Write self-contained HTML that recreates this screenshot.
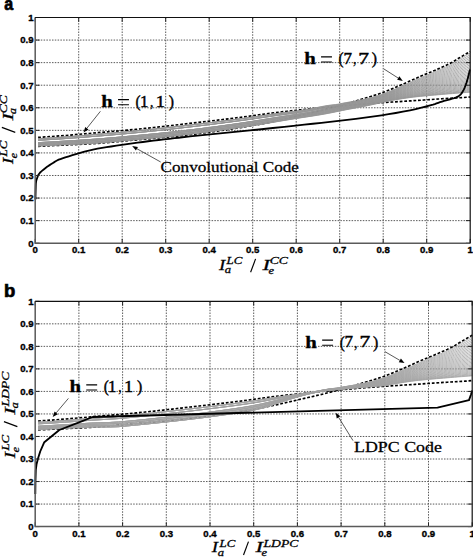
<!DOCTYPE html>
<html><head><meta charset="utf-8"><style>
html,body{margin:0;padding:0;background:#fff;}
body{width:473px;height:557px;overflow:hidden;position:relative;}
svg{position:absolute;left:0;top:0;}
.grid{fill:none;stroke:#5a5a5a;stroke-width:1;stroke-dasharray:1.5 1.3;}
.gray path{fill:none;stroke:#969696;stroke-width:0.75;}
.grayb path{stroke:#a2a2a2;}
.dash{fill:none;stroke:#000;stroke-width:1.65;stroke-dasharray:2.8 1.8;}
.solid{fill:none;stroke:#000;stroke-width:1.85;stroke-linejoin:round;}
.tick{fill:none;stroke:#222;stroke-width:1;}
.boxlb{fill:none;stroke:#5a5a5a;stroke-width:1.5;}
.boxtr{fill:none;stroke:#111;stroke-width:1.2;}
.arr{fill:none;stroke:#111;stroke-width:0.7;}
.arrh{fill:#000;stroke:none;}
.slash{fill:none;stroke:#000;stroke-width:1.15;}
.eq{fill:none;stroke:#000;stroke-width:1.1;}
.tl text{font-family:"Liberation Sans",sans-serif;font-weight:bold;font-size:9.6px;fill:#000;stroke:#000;stroke-width:0.35;}
.txt text{fill:#000;stroke:#000;stroke-width:0.3;}
.txt .thin text,.txt text.thin{stroke-width:0.28;}
.txt text.lab{stroke-width:0.7;}
.txt text.dig{stroke-width:0.45;}
</style></head><body>
<svg width="473" height="557" viewBox="0 0 473 557">
<path d="M78.7,17.5V243.2 M122.2,17.5V243.2 M165.7,17.5V243.2 M209.2,17.5V243.2 M252.7,17.5V243.2 M296.2,17.5V243.2 M339.7,17.5V243.2 M383.2,17.5V243.2 M426.7,17.5V243.2 M35.2,220.63H470.2 M35.2,198.06H470.2 M35.2,175.49H470.2 M35.2,152.92H470.2 M35.2,130.35H470.2 M35.2,107.78H470.2 M35.2,85.21H470.2 M35.2,62.64H470.2 M35.2,40.07H470.2" class="grid"/>
<path d="M38.1,137.39 L47,136.81 L55.9,136.19 L64.8,135.52 L73.7,134.77 L82.6,133.98 L91.5,133.19 L100.4,132.44 L109.3,131.71 L118.2,130.96 L127.1,130.17 L136,129.32 L144.9,128.41 L153.8,127.46 L162.7,126.47 L171.6,125.47 L180.5,124.45 L189.4,123.43 L198.3,122.41 L207.2,121.38 L216.1,120.33 L225,119.26 L233.9,118.17 L242.8,117.04 L251.7,115.84 L260.6,114.58 L269.5,113.36 L278.4,112.25 L287.3,111.24 L296.2,110.29 L299.75,109.93 L303.3,109.57 L306.85,109.22 L310.4,108.87 L313.96,108.52 L317.51,108.19 L321.06,107.85 L324.61,107.52 L328.16,107.19 L331.71,106.86 L335.26,106.54 L338.81,106.21 L342.36,105.89 L345.91,105.58 L349.47,105.27 L353.02,104.96 L356.57,104.66 L360.12,104.36 L363.67,104.08 L367.22,103.79 L370.77,103.52 L374.32,103.25 L377.87,102.99 L381.42,102.74 L384.98,102.5 L388.53,102.27 L392.08,102.04 L395.63,101.82 L399.18,101.6 L402.73,101.38 L406.28,101.16 L409.83,100.93 L413.38,100.7 L416.93,100.47 L420.49,100.23 L424.04,99.99 L427.59,99.75 L431.14,99.5 L434.69,99.26 L438.24,99.02 L441.79,98.79 L445.34,98.55 L448.89,98.33 L452.44,98.11 L456,97.91 L459.55,97.72 L463.1,97.52 L466.65,97.27 L470.2,96.95" class="dash"/>
<path d="M38.1,146.35 L47,145.91 L55.9,145.48 L64.8,145.05 L73.7,144.64 L82.6,144.23 L91.5,143.76 L100.4,143.16 L109.3,142.42 L118.2,141.61 L127.1,140.78 L136,139.97 L144.9,139.17 L153.8,138.35 L162.7,137.52 L171.6,136.64 L180.5,135.71 L189.4,134.72 L198.3,133.64 L207.2,132.5 L216.1,131.29 L225,130.01 L233.9,128.66 L242.8,127.23 L251.7,125.74 L260.6,124.16 L269.5,122.42 L278.4,120.49 L287.3,118.44 L296.2,116.36 L299.75,115.54 L303.3,114.72 L306.85,113.91 L310.4,113.08 L313.96,112.25 L317.51,111.41 L321.06,110.54 L324.61,109.66 L328.16,108.74 L331.71,107.8 L335.26,106.84 L338.81,105.86 L342.36,104.86 L345.91,103.84 L349.47,102.82 L353.02,101.78 L356.57,100.74 L360.12,99.7 L363.67,98.64 L367.22,97.58 L370.77,96.49 L374.32,95.37 L377.87,94.25 L381.42,93.05 L384.98,91.74 L388.53,90.34 L392.08,88.88 L395.63,87.36 L399.18,85.82 L402.73,84.27 L406.28,82.72 L409.83,81.1 L413.38,79.47 L416.93,77.88 L420.49,76.36 L424.04,74.87 L427.59,73.4 L431.14,71.92 L434.69,70.42 L438.24,68.88 L441.79,67.31 L445.34,65.73 L448.89,64.05 L452.44,62.17 L456,59.95 L459.55,57.73 L463.1,55.63 L466.65,53.58 L470.2,51.58" class="dash"/>
<g class="gray"><path d="M38.1,145.85 L47,145.41 L55.9,144.98 L64.8,144.55 L73.7,144.14 L82.6,143.73 L91.5,143.26 L100.4,142.66 L109.3,141.92 L118.2,141.11 L127.1,140.28 L136,139.47 L144.9,138.67 L153.8,137.85 L162.7,137.02 L171.6,136.1 L180.5,135.1 L189.4,134.07 L198.3,132.99 L207.2,131.86 L216.1,130.68 L225,129.48 L233.9,128.27 L242.8,127.03 L251.7,125.75 L260.6,124.41 L269.5,122.96 L278.4,121.45 L287.3,119.94 L296.2,118.52 L299.75,117.98 L303.3,117.45 L306.85,116.92 L310.4,116.38 L313.96,115.83 L317.51,115.27 L321.06,114.68 L324.61,114.07 L328.16,113.42 L331.71,112.72 L335.26,111.99 L338.81,111.25 L342.36,110.52 L345.91,109.82 L349.47,109.15 L353.02,108.49 L356.57,107.82 L360.12,107.16 L363.67,106.47 L367.22,105.75 L370.77,105 L374.32,104.23 L377.87,103.46 L381.42,102.68 L384.98,101.87 L388.53,101.09 L392.08,100.42 L395.63,99.78 L399.18,99.18 L402.73,98.61 L406.28,98.08 L409.83,97.6 L413.38,97.15 L416.93,96.75 L420.49,96.38 L424.04,96.03 L427.59,95.69 L431.14,95.38 L434.69,95.07 L438.24,94.77 L441.79,94.47 L445.34,94.17 L448.89,93.87 L452.44,93.58 L456,93.29 L459.55,93.01 L463.1,92.73 L466.65,92.46 L470.2,92.2"/><path d="M38.1,145.85 L47,145.41 L55.9,144.98 L64.8,144.55 L73.7,144.14 L82.6,143.73 L91.5,143.26 L100.4,142.66 L109.3,141.92 L118.2,141.11 L127.1,140.28 L136,139.47 L144.9,138.67 L153.8,137.85 L162.7,137.02 L171.6,136.1 L180.5,135.1 L189.4,134.07 L198.3,132.99 L207.2,131.85 L216.1,130.66 L225,129.45 L233.9,128.22 L242.8,126.96 L251.7,125.67 L260.6,124.31 L269.5,122.84 L278.4,121.31 L287.3,119.8 L296.2,118.37 L299.75,117.82 L303.3,117.28 L306.85,116.74 L310.4,116.19 L313.96,115.64 L317.51,115.06 L321.06,114.47 L324.61,113.85 L328.16,113.19 L331.71,112.49 L335.26,111.77 L338.81,111.03 L342.36,110.3 L345.91,109.6 L349.47,108.93 L353.02,108.27 L356.57,107.61 L360.12,106.95 L363.67,106.26 L367.22,105.55 L370.77,104.8 L374.32,104.04 L377.87,103.27 L381.42,102.5 L384.98,101.68 L388.53,100.9 L392.08,100.22 L395.63,99.58 L399.18,98.97 L402.73,98.4 L406.28,97.86 L409.83,97.37 L413.38,96.92 L416.93,96.51 L420.49,96.13 L424.04,95.77 L427.59,95.43 L431.14,95.1 L434.69,94.78 L438.24,94.47 L441.79,94.15 L445.34,93.83 L448.89,93.51 L452.44,93.2 L456,92.89 L459.55,92.58 L463.1,92.28 L466.65,91.99 L470.2,91.71"/><path d="M38.1,145.85 L47,145.41 L55.9,144.98 L64.8,144.55 L73.7,144.14 L82.6,143.73 L91.5,143.26 L100.4,142.66 L109.3,141.92 L118.2,141.11 L127.1,140.28 L136,139.47 L144.9,138.67 L153.8,137.85 L162.7,137.02 L171.6,136.1 L180.5,135.1 L189.4,134.07 L198.3,132.99 L207.2,131.84 L216.1,130.64 L225,129.42 L233.9,128.17 L242.8,126.9 L251.7,125.58 L260.6,124.2 L269.5,122.72 L278.4,121.18 L287.3,119.65 L296.2,118.21 L299.75,117.66 L303.3,117.11 L306.85,116.56 L310.4,116.01 L313.96,115.44 L317.51,114.85 L321.06,114.25 L324.61,113.62 L328.16,112.96 L331.71,112.26 L335.26,111.55 L338.81,110.81 L342.36,110.08 L345.91,109.37 L349.47,108.7 L353.02,108.04 L356.57,107.39 L360.12,106.73 L363.67,106.05 L367.22,105.33 L370.77,104.59 L374.32,103.83 L377.87,103.06 L381.42,102.28 L384.98,101.46 L388.53,100.67 L392.08,99.98 L395.63,99.33 L399.18,98.7 L402.73,98.12 L406.28,97.57 L409.83,97.06 L413.38,96.6 L416.93,96.17 L420.49,95.77 L424.04,95.4 L427.59,95.04 L431.14,94.7 L434.69,94.36 L438.24,94.02 L441.79,93.68 L445.34,93.34 L448.89,92.99 L452.44,92.65 L456,92.3 L459.55,91.96 L463.1,91.63 L466.65,91.31 L470.2,90.99"/><path d="M38.1,145.85 L47,145.41 L55.9,144.98 L64.8,144.55 L73.7,144.14 L82.6,143.73 L91.5,143.26 L100.4,142.66 L109.3,141.92 L118.2,141.11 L127.1,140.28 L136,139.47 L144.9,138.67 L153.8,137.85 L162.7,137.02 L171.6,136.1 L180.5,135.1 L189.4,134.07 L198.3,132.98 L207.2,131.83 L216.1,130.63 L225,129.39 L233.9,128.12 L242.8,126.84 L251.7,125.5 L260.6,124.1 L269.5,122.6 L278.4,121.04 L287.3,119.5 L296.2,118.05 L299.75,117.49 L303.3,116.94 L306.85,116.38 L310.4,115.82 L313.96,115.24 L317.51,114.65 L321.06,114.03 L324.61,113.4 L328.16,112.73 L331.71,112.03 L335.26,111.33 L338.81,110.59 L342.36,109.85 L345.91,109.15 L349.47,108.48 L353.02,107.82 L356.57,107.17 L360.12,106.51 L363.67,105.82 L367.22,105.11 L370.77,104.37 L374.32,103.6 L377.87,102.83 L381.42,102.04 L384.98,101.21 L388.53,100.42 L392.08,99.71 L395.63,99.04 L399.18,98.41 L402.73,97.8 L406.28,97.24 L409.83,96.71 L413.38,96.23 L416.93,95.78 L420.49,95.36 L424.04,94.97 L427.59,94.59 L431.14,94.22 L434.69,93.86 L438.24,93.49 L441.79,93.13 L445.34,92.76 L448.89,92.39 L452.44,92.01 L456,91.62 L459.55,91.24 L463.1,90.87 L466.65,90.5 L470.2,90.15"/><path d="M38.1,145.85 L47,145.41 L55.9,144.98 L64.8,144.55 L73.7,144.14 L82.6,143.73 L91.5,143.26 L100.4,142.66 L109.3,141.92 L118.2,141.11 L127.1,140.28 L136,139.47 L144.9,138.67 L153.8,137.85 L162.7,137.02 L171.6,136.1 L180.5,135.1 L189.4,134.07 L198.3,132.98 L207.2,131.82 L216.1,130.61 L225,129.35 L233.9,128.08 L242.8,126.77 L251.7,125.42 L260.6,124 L269.5,122.49 L278.4,120.91 L287.3,119.36 L296.2,117.89 L299.75,117.33 L303.3,116.77 L306.85,116.2 L310.4,115.63 L313.96,115.05 L317.51,114.44 L321.06,113.82 L324.61,113.17 L328.16,112.5 L331.71,111.81 L335.26,111.11 L338.81,110.37 L342.36,109.63 L345.91,108.92 L349.47,108.25 L353.02,107.6 L356.57,106.94 L360.12,106.28 L363.67,105.6 L367.22,104.88 L370.77,104.14 L374.32,103.37 L377.87,102.59 L381.42,101.8 L384.98,100.96 L388.53,100.15 L392.08,99.43 L395.63,98.74 L399.18,98.09 L402.73,97.46 L406.28,96.88 L409.83,96.33 L413.38,95.82 L416.93,95.35 L420.49,94.91 L424.04,94.49 L427.59,94.09 L431.14,93.7 L434.69,93.31 L438.24,92.91 L441.79,92.52 L445.34,92.12 L448.89,91.71 L452.44,91.3 L456,90.86 L459.55,90.44 L463.1,90.02 L466.65,89.62 L470.2,89.22"/><path d="M38.1,144.81 L47,144.36 L55.9,143.9 L64.8,143.44 L73.7,142.99 L82.6,142.53 L91.5,142.02 L100.4,141.39 L109.3,140.66 L118.2,139.85 L127.1,139.03 L136,138.21 L144.9,137.4 L153.8,136.57 L162.7,135.71 L171.6,134.78 L180.5,133.78 L189.4,132.75 L198.3,131.68 L207.2,130.55 L216.1,129.38 L225,128.18 L233.9,126.96 L242.8,125.72 L251.7,124.42 L260.6,123.07 L269.5,121.63 L278.4,120.15 L287.3,118.69 L296.2,117.31 L299.75,116.77 L303.3,116.23 L306.85,115.68 L310.4,115.13 L313.96,114.55 L317.51,113.96 L321.06,113.35 L324.61,112.72 L328.16,112.07 L331.71,111.4 L335.26,110.74 L338.81,110.03 L342.36,109.3 L345.91,108.61 L349.47,107.95 L353.02,107.31 L356.57,106.67 L360.12,106.02 L363.67,105.34 L367.22,104.63 L370.77,103.89 L374.32,103.12 L377.87,102.35 L381.42,101.55 L384.98,100.7 L388.53,99.87 L392.08,99.13 L395.63,98.43 L399.18,97.75 L402.73,97.11 L406.28,96.5 L409.83,95.92 L413.38,95.39 L416.93,94.89 L420.49,94.43 L424.04,93.98 L427.59,93.56 L431.14,93.14 L434.69,92.72 L438.24,92.29 L441.79,91.86 L445.34,91.43 L448.89,90.99 L452.44,90.53 L456,90.05 L459.55,89.57 L463.1,89.11 L466.65,88.66 L470.2,88.22"/><path d="M38.1,144.81 L47,144.36 L55.9,143.9 L64.8,143.44 L73.7,142.99 L82.6,142.53 L91.5,142.02 L100.4,141.39 L109.3,140.66 L118.2,139.85 L127.1,139.03 L136,138.21 L144.9,137.4 L153.8,136.57 L162.7,135.71 L171.6,134.78 L180.5,133.78 L189.4,132.75 L198.3,131.68 L207.2,130.54 L216.1,129.36 L225,128.15 L233.9,126.91 L242.8,125.65 L251.7,124.34 L260.6,122.97 L269.5,121.51 L278.4,120.02 L287.3,118.55 L296.2,117.15 L299.75,116.6 L303.3,116.06 L306.85,115.51 L310.4,114.94 L313.96,114.35 L317.51,113.75 L321.06,113.13 L324.61,112.49 L328.16,111.84 L331.71,111.18 L335.26,110.52 L338.81,109.81 L342.36,109.07 L345.91,108.38 L349.47,107.72 L353.02,107.08 L356.57,106.44 L360.12,105.79 L363.67,105.11 L367.22,104.4 L370.77,103.65 L374.32,102.88 L377.87,102.1 L381.42,101.29 L384.98,100.43 L388.53,99.59 L392.08,98.83 L395.63,98.1 L399.18,97.4 L402.73,96.73 L406.28,96.1 L409.83,95.49 L413.38,94.93 L416.93,94.41 L420.49,93.91 L424.04,93.44 L427.59,92.99 L431.14,92.54 L434.69,92.09 L438.24,91.63 L441.79,91.16 L445.34,90.7 L448.89,90.22 L452.44,89.72 L456,89.18 L459.55,88.65 L463.1,88.14 L466.65,87.64 L470.2,87.15"/><path d="M38.1,144.81 L47,144.36 L55.9,143.9 L64.8,143.44 L73.7,142.99 L82.6,142.53 L91.5,142.02 L100.4,141.39 L109.3,140.66 L118.2,139.85 L127.1,139.03 L136,138.21 L144.9,137.4 L153.8,136.57 L162.7,135.71 L171.6,134.78 L180.5,133.78 L189.4,132.75 L198.3,131.67 L207.2,130.53 L216.1,129.34 L225,128.11 L233.9,126.87 L242.8,125.59 L251.7,124.26 L260.6,122.87 L269.5,121.39 L278.4,119.88 L287.3,118.4 L296.2,116.99 L299.75,116.44 L303.3,115.89 L306.85,115.33 L310.4,114.75 L313.96,114.16 L317.51,113.54 L321.06,112.91 L324.61,112.27 L328.16,111.61 L331.71,110.95 L335.26,110.3 L338.81,109.59 L342.36,108.85 L345.91,108.15 L349.47,107.5 L353.02,106.85 L356.57,106.21 L360.12,105.56 L363.67,104.88 L367.22,104.16 L370.77,103.41 L374.32,102.64 L377.87,101.84 L381.42,101.03 L384.98,100.15 L388.53,99.3 L392.08,98.52 L395.63,97.76 L399.18,97.04 L402.73,96.34 L406.28,95.68 L409.83,95.05 L413.38,94.45 L416.93,93.9 L420.49,93.38 L424.04,92.88 L427.59,92.39 L431.14,91.91 L434.69,91.42 L438.24,90.93 L441.79,90.43 L445.34,89.93 L448.89,89.41 L452.44,88.86 L456,88.27 L459.55,87.68 L463.1,87.12 L466.65,86.57 L470.2,86.04"/><path d="M38.1,144.81 L47,144.36 L55.9,143.9 L64.8,143.44 L73.7,142.99 L82.6,142.53 L91.5,142.02 L100.4,141.39 L109.3,140.66 L118.2,139.85 L127.1,139.03 L136,138.21 L144.9,137.4 L153.8,136.57 L162.7,135.71 L171.6,134.78 L180.5,133.78 L189.4,132.75 L198.3,131.67 L207.2,130.52 L216.1,129.32 L225,128.08 L233.9,126.82 L242.8,125.53 L251.7,124.18 L260.6,122.77 L269.5,121.28 L278.4,119.75 L287.3,118.25 L296.2,116.83 L299.75,116.28 L303.3,115.72 L306.85,115.15 L310.4,114.56 L313.96,113.96 L317.51,113.34 L321.06,112.7 L324.61,112.05 L328.16,111.39 L331.71,110.72 L335.26,110.08 L338.81,109.37 L342.36,108.62 L345.91,107.93 L349.47,107.27 L353.02,106.63 L356.57,105.98 L360.12,105.33 L363.67,104.65 L367.22,103.93 L370.77,103.17 L374.32,102.39 L377.87,101.59 L381.42,100.76 L384.98,99.87 L388.53,99 L392.08,98.19 L395.63,97.42 L399.18,96.66 L402.73,95.94 L406.28,95.25 L409.83,94.59 L413.38,93.96 L416.93,93.37 L420.49,92.82 L424.04,92.29 L427.59,91.77 L431.14,91.25 L434.69,90.73 L438.24,90.2 L441.79,89.66 L445.34,89.12 L448.89,88.56 L452.44,87.97 L456,87.32 L459.55,86.68 L463.1,86.06 L466.65,85.46 L470.2,84.87"/><path d="M38.1,144.81 L47,144.36 L55.9,143.9 L64.8,143.44 L73.7,142.99 L82.6,142.53 L91.5,142.02 L100.4,141.39 L109.3,140.66 L118.2,139.85 L127.1,139.03 L136,138.21 L144.9,137.4 L153.8,136.57 L162.7,135.71 L171.6,134.78 L180.5,133.78 L189.4,132.75 L198.3,131.67 L207.2,130.51 L216.1,129.3 L225,128.05 L233.9,126.77 L242.8,125.46 L251.7,124.1 L260.6,122.67 L269.5,121.16 L278.4,119.61 L287.3,118.11 L296.2,116.67 L299.75,116.11 L303.3,115.55 L306.85,114.97 L310.4,114.38 L313.96,113.76 L317.51,113.13 L321.06,112.48 L324.61,111.82 L328.16,111.16 L331.71,110.5 L335.26,109.86 L338.81,109.15 L342.36,108.4 L345.91,107.7 L349.47,107.04 L353.02,106.4 L356.57,105.75 L360.12,105.1 L363.67,104.41 L367.22,103.69 L370.77,102.92 L374.32,102.13 L377.87,101.33 L381.42,100.49 L384.98,99.59 L388.53,98.69 L392.08,97.87 L395.63,97.06 L399.18,96.28 L402.73,95.53 L406.28,94.81 L409.83,94.11 L413.38,93.45 L416.93,92.83 L420.49,92.24 L424.04,91.67 L427.59,91.12 L431.14,90.57 L434.69,90.01 L438.24,89.44 L441.79,88.87 L445.34,88.29 L448.89,87.68 L452.44,87.04 L456,86.33 L459.55,85.63 L463.1,84.95 L466.65,84.3 L470.2,83.65"/><path d="M38.1,143.7 L47,143.23 L55.9,142.74 L64.8,142.25 L73.7,141.75 L82.6,141.24 L91.5,140.68 L100.4,140.03 L109.3,139.3 L118.2,138.5 L127.1,137.68 L136,136.86 L144.9,136.03 L153.8,135.18 L162.7,134.31 L171.6,133.37 L180.5,132.36 L189.4,131.33 L198.3,130.26 L207.2,129.14 L216.1,127.98 L225,126.79 L233.9,125.57 L242.8,124.33 L251.7,123.03 L260.6,121.67 L269.5,120.25 L278.4,118.81 L287.3,117.4 L296.2,116.05 L299.75,115.52 L303.3,114.98 L306.85,114.42 L310.4,113.85 L313.96,113.25 L317.51,112.62 L321.06,111.99 L324.61,111.35 L328.16,110.71 L331.71,110.08 L335.26,109.48 L338.81,108.8 L342.36,108.06 L345.91,107.38 L349.47,106.73 L353.02,106.1 L356.57,105.47 L360.12,104.83 L363.67,104.15 L367.22,103.42 L370.77,102.66 L374.32,101.87 L377.87,101.06 L381.42,100.21 L384.98,99.3 L388.53,98.38 L392.08,97.53 L395.63,96.7 L399.18,95.89 L402.73,95.1 L406.28,94.35 L409.83,93.62 L413.38,92.92 L416.93,92.26 L420.49,91.64 L424.04,91.04 L427.59,90.45 L431.14,89.87 L434.69,89.27 L438.24,88.66 L441.79,88.04 L445.34,87.42 L448.89,86.77 L452.44,86.08 L456,85.31 L459.55,84.54 L463.1,83.81 L466.65,83.1 L470.2,82.4"/><path d="M38.1,143.7 L47,143.23 L55.9,142.74 L64.8,142.25 L73.7,141.75 L82.6,141.24 L91.5,140.68 L100.4,140.03 L109.3,139.3 L118.2,138.5 L127.1,137.68 L136,136.86 L144.9,136.03 L153.8,135.18 L162.7,134.31 L171.6,133.37 L180.5,132.36 L189.4,131.33 L198.3,130.26 L207.2,129.13 L216.1,127.96 L225,126.76 L233.9,125.53 L242.8,124.27 L251.7,122.95 L260.6,121.57 L269.5,120.13 L278.4,118.67 L287.3,117.26 L296.2,115.9 L299.75,115.36 L303.3,114.81 L306.85,114.25 L310.4,113.66 L313.96,113.05 L317.51,112.42 L321.06,111.77 L324.61,111.12 L328.16,110.48 L331.71,109.85 L335.26,109.26 L338.81,108.58 L342.36,107.84 L345.91,107.15 L349.47,106.5 L353.02,105.88 L356.57,105.24 L360.12,104.59 L363.67,103.91 L367.22,103.18 L370.77,102.42 L374.32,101.62 L377.87,100.79 L381.42,99.93 L384.98,99 L388.53,98.07 L392.08,97.19 L395.63,96.33 L399.18,95.49 L402.73,94.67 L406.28,93.89 L409.83,93.12 L413.38,92.38 L416.93,91.68 L420.49,91.02 L424.04,90.39 L427.59,89.76 L431.14,89.14 L434.69,88.51 L438.24,87.85 L441.79,87.2 L445.34,86.53 L448.89,85.84 L452.44,85.09 L456,84.26 L459.55,83.43 L463.1,82.64 L466.65,81.86 L470.2,81.11"/><path d="M38.1,143.7 L47,143.23 L55.9,142.74 L64.8,142.25 L73.7,141.75 L82.6,141.24 L91.5,140.68 L100.4,140.03 L109.3,139.3 L118.2,138.5 L127.1,137.68 L136,136.86 L144.9,136.03 L153.8,135.18 L162.7,134.31 L171.6,133.37 L180.5,132.36 L189.4,131.33 L198.3,130.26 L207.2,129.12 L216.1,127.94 L225,126.72 L233.9,125.48 L242.8,124.2 L251.7,122.87 L260.6,121.47 L269.5,120.01 L278.4,118.54 L287.3,117.11 L296.2,115.74 L299.75,115.19 L303.3,114.64 L306.85,114.07 L310.4,113.47 L313.96,112.85 L317.51,112.21 L321.06,111.56 L324.61,110.9 L328.16,110.25 L331.71,109.62 L335.26,109.04 L338.81,108.36 L342.36,107.61 L345.91,106.92 L349.47,106.28 L353.02,105.65 L356.57,105.01 L360.12,104.36 L363.67,103.67 L367.22,102.94 L370.77,102.16 L374.32,101.36 L377.87,100.52 L381.42,99.65 L384.98,98.7 L388.53,97.75 L392.08,96.84 L395.63,95.95 L399.18,95.08 L402.73,94.23 L406.28,93.41 L409.83,92.61 L413.38,91.83 L416.93,91.09 L420.49,90.39 L424.04,89.72 L427.59,89.06 L431.14,88.4 L434.69,87.72 L438.24,87.03 L441.79,86.32 L445.34,85.62 L448.89,84.88 L452.44,84.08 L456,83.18 L459.55,82.28 L463.1,81.43 L466.65,80.59 L470.2,79.78"/><path d="M38.1,143.7 L47,143.23 L55.9,142.74 L64.8,142.25 L73.7,141.75 L82.6,141.24 L91.5,140.68 L100.4,140.03 L109.3,139.3 L118.2,138.5 L127.1,137.68 L136,136.86 L144.9,136.03 L153.8,135.18 L162.7,134.31 L171.6,133.37 L180.5,132.36 L189.4,131.33 L198.3,130.25 L207.2,129.11 L216.1,127.92 L225,126.69 L233.9,125.43 L242.8,124.14 L251.7,122.78 L260.6,121.37 L269.5,119.89 L278.4,118.4 L287.3,116.96 L296.2,115.58 L299.75,115.03 L303.3,114.47 L306.85,113.89 L310.4,113.29 L313.96,112.66 L317.51,112 L321.06,111.34 L324.61,110.68 L328.16,110.02 L331.71,109.4 L335.26,108.82 L338.81,108.14 L342.36,107.39 L345.91,106.7 L349.47,106.05 L353.02,105.42 L356.57,104.78 L360.12,104.12 L363.67,103.43 L367.22,102.69 L370.77,101.91 L374.32,101.09 L377.87,100.25 L381.42,99.37 L384.98,98.4 L388.53,97.43 L392.08,96.49 L395.63,95.57 L399.18,94.67 L402.73,93.78 L406.28,92.93 L409.83,92.08 L413.38,91.26 L416.93,90.49 L420.49,89.75 L424.04,89.03 L427.59,88.33 L431.14,87.63 L434.69,86.91 L438.24,86.18 L441.79,85.43 L445.34,84.68 L448.89,83.89 L452.44,83.04 L456,82.07 L459.55,81.11 L463.1,80.19 L466.65,79.29 L470.2,78.42"/><path d="M38.1,143.7 L47,143.23 L55.9,142.74 L64.8,142.25 L73.7,141.75 L82.6,141.24 L91.5,140.68 L100.4,140.03 L109.3,139.3 L118.2,138.5 L127.1,137.68 L136,136.86 L144.9,136.03 L153.8,135.18 L162.7,134.31 L171.6,133.37 L180.5,132.36 L189.4,131.33 L198.3,130.25 L207.2,129.1 L216.1,127.9 L225,126.66 L233.9,125.38 L242.8,124.07 L251.7,122.7 L260.6,121.27 L269.5,119.77 L278.4,118.27 L287.3,116.82 L296.2,115.42 L299.75,114.87 L303.3,114.3 L306.85,113.71 L310.4,113.1 L313.96,112.46 L317.51,111.8 L321.06,111.12 L324.61,110.45 L328.16,109.8 L331.71,109.17 L335.26,108.59 L338.81,107.92 L342.36,107.16 L345.91,106.47 L349.47,105.82 L353.02,105.18 L356.57,104.55 L360.12,103.88 L363.67,103.19 L367.22,102.45 L370.77,101.66 L374.32,100.83 L377.87,99.98 L381.42,99.08 L384.98,98.1 L388.53,97.1 L392.08,96.14 L395.63,95.18 L399.18,94.24 L402.73,93.33 L406.28,92.44 L409.83,91.55 L413.38,90.69 L416.93,89.87 L420.49,89.09 L424.04,88.33 L427.59,87.59 L431.14,86.85 L434.69,86.09 L438.24,85.31 L441.79,84.52 L445.34,83.72 L448.89,82.88 L452.44,81.97 L456,80.93 L459.55,79.9 L463.1,78.92 L466.65,77.96 L470.2,77.02"/><path d="M38.1,142.67 L47,142.17 L55.9,141.66 L64.8,141.14 L73.7,140.6 L82.6,140.03 L91.5,139.43 L100.4,138.77 L109.3,138.03 L118.2,137.25 L127.1,136.43 L136,135.61 L144.9,134.76 L153.8,133.9 L162.7,133 L171.6,132.05 L180.5,131.04 L189.4,130.01 L198.3,128.95 L207.2,127.83 L216.1,126.68 L225,125.48 L233.9,124.27 L242.8,123.02 L251.7,121.7 L260.6,120.33 L269.5,118.92 L278.4,117.51 L287.3,116.15 L296.2,114.84 L299.75,114.31 L303.3,113.76 L306.85,113.19 L310.4,112.59 L313.96,111.96 L317.51,111.31 L321.06,110.65 L324.61,110 L328.16,109.36 L331.71,108.77 L335.26,108.23 L338.81,107.58 L342.36,106.83 L345.91,106.15 L349.47,105.52 L353.02,104.9 L356.57,104.27 L360.12,103.61 L363.67,102.92 L367.22,102.18 L370.77,101.39 L374.32,100.56 L377.87,99.7 L381.42,98.79 L384.98,97.79 L388.53,96.77 L392.08,95.78 L395.63,94.79 L399.18,93.82 L402.73,92.86 L406.28,91.93 L409.83,91.01 L413.38,90.1 L416.93,89.24 L420.49,88.41 L424.04,87.62 L427.59,86.83 L431.14,86.05 L434.69,85.25 L438.24,84.42 L441.79,83.58 L445.34,82.74 L448.89,81.85 L452.44,80.88 L456,79.77 L459.55,78.67 L463.1,77.62 L466.65,76.6 L470.2,75.6"/><path d="M38.1,142.67 L47,142.17 L55.9,141.66 L64.8,141.14 L73.7,140.6 L82.6,140.03 L91.5,139.43 L100.4,138.77 L109.3,138.03 L118.2,137.25 L127.1,136.43 L136,135.61 L144.9,134.76 L153.8,133.9 L162.7,133 L171.6,132.05 L180.5,131.04 L189.4,130.01 L198.3,128.95 L207.2,127.82 L216.1,126.66 L225,125.45 L233.9,124.22 L242.8,122.95 L251.7,121.62 L260.6,120.23 L269.5,118.8 L278.4,117.38 L287.3,116.01 L296.2,114.68 L299.75,114.14 L303.3,113.59 L306.85,113.01 L310.4,112.4 L313.96,111.77 L317.51,111.11 L321.06,110.44 L324.61,109.77 L328.16,109.14 L331.71,108.54 L335.26,108.01 L338.81,107.36 L342.36,106.61 L345.91,105.92 L349.47,105.29 L353.02,104.66 L356.57,104.03 L360.12,103.38 L363.67,102.68 L367.22,101.93 L370.77,101.13 L374.32,100.29 L377.87,99.42 L381.42,98.5 L384.98,97.48 L388.53,96.43 L392.08,95.41 L395.63,94.39 L399.18,93.38 L402.73,92.39 L406.28,91.42 L409.83,90.45 L413.38,89.5 L416.93,88.59 L420.49,87.73 L424.04,86.89 L427.59,86.06 L431.14,85.23 L434.69,84.39 L438.24,83.51 L441.79,82.63 L445.34,81.74 L448.89,80.8 L452.44,79.77 L456,78.59 L459.55,77.42 L463.1,76.3 L466.65,75.21 L470.2,74.14"/><path d="M38.1,142.67 L47,142.17 L55.9,141.66 L64.8,141.14 L73.7,140.6 L82.6,140.03 L91.5,139.43 L100.4,138.77 L109.3,138.03 L118.2,137.25 L127.1,136.43 L136,135.61 L144.9,134.76 L153.8,133.9 L162.7,133 L171.6,132.05 L180.5,131.04 L189.4,130.01 L198.3,128.94 L207.2,127.81 L216.1,126.64 L225,125.42 L233.9,124.17 L242.8,122.89 L251.7,121.54 L260.6,120.13 L269.5,118.68 L278.4,117.24 L287.3,115.86 L296.2,114.52 L299.75,113.98 L303.3,113.42 L306.85,112.83 L310.4,112.22 L313.96,111.57 L317.51,110.9 L321.06,110.22 L324.61,109.55 L328.16,108.91 L331.71,108.31 L335.26,107.79 L338.81,107.14 L342.36,106.38 L345.91,105.7 L349.47,105.06 L353.02,104.43 L356.57,103.8 L360.12,103.14 L363.67,102.44 L367.22,101.68 L370.77,100.88 L374.32,100.03 L377.87,99.15 L381.42,98.2 L384.98,97.16 L388.53,96.1 L392.08,95.04 L395.63,93.99 L399.18,92.95 L402.73,91.92 L406.28,90.91 L409.83,89.89 L413.38,88.9 L416.93,87.94 L420.49,87.03 L424.04,86.15 L427.59,85.28 L431.14,84.4 L434.69,83.51 L438.24,82.59 L441.79,81.66 L445.34,80.72 L448.89,79.73 L452.44,78.64 L456,77.39 L459.55,76.14 L463.1,74.95 L466.65,73.79 L470.2,72.66"/><path d="M38.1,142.67 L47,142.17 L55.9,141.66 L64.8,141.14 L73.7,140.6 L82.6,140.03 L91.5,139.43 L100.4,138.77 L109.3,138.03 L118.2,137.25 L127.1,136.43 L136,135.61 L144.9,134.76 L153.8,133.9 L162.7,133 L171.6,132.05 L180.5,131.04 L189.4,130.01 L198.3,128.94 L207.2,127.8 L216.1,126.62 L225,125.39 L233.9,124.13 L242.8,122.83 L251.7,121.46 L260.6,120.03 L269.5,118.56 L278.4,117.11 L287.3,115.72 L296.2,114.36 L299.75,113.81 L303.3,113.25 L306.85,112.66 L310.4,112.03 L313.96,111.37 L317.51,110.69 L321.06,110 L324.61,109.32 L328.16,108.68 L331.71,108.09 L335.26,107.57 L338.81,106.92 L342.36,106.16 L345.91,105.47 L349.47,104.83 L353.02,104.2 L356.57,103.56 L360.12,102.9 L363.67,102.19 L367.22,101.43 L370.77,100.62 L374.32,99.76 L377.87,98.86 L381.42,97.91 L384.98,96.85 L388.53,95.76 L392.08,94.67 L395.63,93.59 L399.18,92.5 L402.73,91.43 L406.28,90.38 L409.83,89.32 L413.38,88.28 L416.93,87.28 L420.49,86.32 L424.04,85.39 L427.59,84.48 L431.14,83.56 L434.69,82.62 L438.24,81.65 L441.79,80.67 L445.34,79.68 L448.89,78.64 L452.44,77.49 L456,76.16 L459.55,74.84 L463.1,73.58 L466.65,72.35 L470.2,71.16"/><path d="M38.1,142.67 L47,142.17 L55.9,141.66 L64.8,141.14 L73.7,140.6 L82.6,140.03 L91.5,139.43 L100.4,138.77 L109.3,138.03 L118.2,137.25 L127.1,136.43 L136,135.61 L144.9,134.76 L153.8,133.9 L162.7,133 L171.6,132.05 L180.5,131.04 L189.4,130.01 L198.3,128.94 L207.2,127.79 L216.1,126.6 L225,125.35 L233.9,124.08 L242.8,122.76 L251.7,121.38 L260.6,119.93 L269.5,118.44 L278.4,116.97 L287.3,115.57 L296.2,114.2 L299.75,113.65 L303.3,113.08 L306.85,112.48 L310.4,111.84 L313.96,111.18 L317.51,110.49 L321.06,109.79 L324.61,109.1 L328.16,108.45 L331.71,107.86 L335.26,107.34 L338.81,106.7 L342.36,105.93 L345.91,105.24 L349.47,104.6 L353.02,103.97 L356.57,103.33 L360.12,102.66 L363.67,101.95 L367.22,101.18 L370.77,100.36 L374.32,99.49 L377.87,98.58 L381.42,97.61 L384.98,96.53 L388.53,95.41 L392.08,94.3 L395.63,93.17 L399.18,92.05 L402.73,90.94 L406.28,89.85 L409.83,88.75 L413.38,87.65 L416.93,86.6 L420.49,85.6 L424.04,84.62 L427.59,83.66 L431.14,82.7 L434.69,81.71 L438.24,80.69 L441.79,79.66 L445.34,78.62 L448.89,77.53 L452.44,76.32 L456,74.91 L459.55,73.51 L463.1,72.19 L466.65,70.89 L470.2,69.62"/><path d="M38.1,140.28 L47,139.74 L55.9,139.18 L64.8,138.58 L73.7,137.94 L82.6,137.26 L91.5,136.56 L100.4,135.85 L109.3,135.12 L118.2,134.35 L127.1,133.55 L136,132.71 L144.9,131.84 L153.8,130.93 L162.7,129.99 L171.6,129.01 L180.5,127.99 L189.4,126.97 L198.3,125.94 L207.2,124.87 L216.1,123.79 L225,122.69 L233.9,121.56 L242.8,120.41 L251.7,119.18 L260.6,117.91 L269.5,116.63 L278.4,115.4 L287.3,114.23 L296.2,113.06 L299.75,112.57 L303.3,112.06 L306.85,111.51 L310.4,110.92 L313.96,110.29 L317.51,109.64 L321.06,108.98 L324.61,108.34 L328.16,107.75 L331.71,107.22 L335.26,106.78 L338.81,106.19 L342.36,105.46 L345.91,104.81 L349.47,104.2 L353.02,103.6 L356.57,102.99 L360.12,102.34 L363.67,101.64 L367.22,100.89 L370.77,100.07 L374.32,99.2 L377.87,98.29 L381.42,97.31 L384.98,96.21 L388.53,95.07 L392.08,93.92 L395.63,92.76 L399.18,91.6 L402.73,90.45 L406.28,89.31 L409.83,88.16 L413.38,87.02 L416.93,85.92 L420.49,84.87 L424.04,83.85 L427.59,82.84 L431.14,81.82 L434.69,80.79 L438.24,79.72 L441.79,78.64 L445.34,77.55 L448.89,76.4 L452.44,75.12 L456,73.65 L459.55,72.17 L463.1,70.77 L466.65,69.4 L470.2,68.07"/><path d="M38.1,140.28 L47,139.74 L55.9,139.18 L64.8,138.58 L73.7,137.94 L82.6,137.26 L91.5,136.56 L100.4,135.85 L109.3,135.12 L118.2,134.35 L127.1,133.55 L136,132.71 L144.9,131.84 L153.8,130.93 L162.7,129.99 L171.6,129.01 L180.5,127.99 L189.4,126.97 L198.3,125.93 L207.2,124.87 L216.1,123.77 L225,122.65 L233.9,121.51 L242.8,120.35 L251.7,119.1 L260.6,117.81 L269.5,116.51 L278.4,115.26 L287.3,114.08 L296.2,112.9 L299.75,112.41 L303.3,111.89 L306.85,111.33 L310.4,110.73 L313.96,110.1 L317.51,109.43 L321.06,108.76 L324.61,108.12 L328.16,107.52 L331.71,107 L335.26,106.56 L338.81,105.97 L342.36,105.24 L345.91,104.58 L349.47,103.97 L353.02,103.37 L356.57,102.75 L360.12,102.1 L363.67,101.4 L367.22,100.63 L370.77,99.81 L374.32,98.93 L377.87,98.01 L381.42,97 L384.98,95.89 L388.53,94.72 L392.08,93.54 L395.63,92.34 L399.18,91.14 L402.73,89.95 L406.28,88.77 L409.83,87.57 L413.38,86.38 L416.93,85.23 L420.49,84.13 L424.04,83.06 L427.59,82 L431.14,80.94 L434.69,79.86 L438.24,78.74 L441.79,77.61 L445.34,76.46 L448.89,75.25 L452.44,73.92 L456,72.36 L459.55,70.81 L463.1,69.33 L466.65,67.89 L470.2,66.49"/><path d="M38.1,140.28 L47,139.74 L55.9,139.18 L64.8,138.58 L73.7,137.94 L82.6,137.26 L91.5,136.56 L100.4,135.85 L109.3,135.12 L118.2,134.35 L127.1,133.55 L136,132.71 L144.9,131.84 L153.8,130.93 L162.7,129.99 L171.6,129.01 L180.5,127.99 L189.4,126.97 L198.3,125.93 L207.2,124.86 L216.1,123.75 L225,122.62 L233.9,121.47 L242.8,120.28 L251.7,119.02 L260.6,117.71 L269.5,116.39 L278.4,115.13 L287.3,113.93 L296.2,112.74 L299.75,112.24 L303.3,111.72 L306.85,111.15 L310.4,110.55 L313.96,109.9 L317.51,109.23 L321.06,108.55 L324.61,107.89 L328.16,107.29 L331.71,106.77 L335.26,106.34 L338.81,105.75 L342.36,105.01 L345.91,104.35 L349.47,103.74 L353.02,103.14 L356.57,102.52 L360.12,101.86 L363.67,101.15 L367.22,100.38 L370.77,99.55 L374.32,98.65 L377.87,97.72 L381.42,96.7 L384.98,95.56 L388.53,94.36 L392.08,93.15 L395.63,91.92 L399.18,90.68 L402.73,89.44 L406.28,88.22 L409.83,86.97 L413.38,85.73 L416.93,84.52 L420.49,83.37 L424.04,82.25 L427.59,81.15 L431.14,80.04 L434.69,78.91 L438.24,77.74 L441.79,76.55 L445.34,75.36 L448.89,74.09 L452.44,72.69 L456,71.06 L459.55,69.42 L463.1,67.87 L466.65,66.36 L470.2,64.88"/><path d="M38.1,140.28 L47,139.74 L55.9,139.18 L64.8,138.58 L73.7,137.94 L82.6,137.26 L91.5,136.56 L100.4,135.85 L109.3,135.12 L118.2,134.35 L127.1,133.55 L136,132.71 L144.9,131.84 L153.8,130.93 L162.7,129.99 L171.6,129.01 L180.5,127.99 L189.4,126.97 L198.3,125.93 L207.2,124.85 L216.1,123.73 L225,122.59 L233.9,121.42 L242.8,120.22 L251.7,118.94 L260.6,117.61 L269.5,116.27 L278.4,114.99 L287.3,113.79 L296.2,112.58 L299.75,112.08 L303.3,111.55 L306.85,110.97 L310.4,110.36 L313.96,109.7 L317.51,109.02 L321.06,108.33 L324.61,107.67 L328.16,107.07 L331.71,106.54 L335.26,106.12 L338.81,105.53 L342.36,104.79 L345.91,104.13 L349.47,103.51 L353.02,102.91 L356.57,102.28 L360.12,101.62 L363.67,100.91 L367.22,100.13 L370.77,99.28 L374.32,98.38 L377.87,97.43 L381.42,96.39 L384.98,95.23 L388.53,94.01 L392.08,92.76 L395.63,91.49 L399.18,90.21 L402.73,88.93 L406.28,87.66 L409.83,86.37 L413.38,85.07 L416.93,83.81 L420.49,82.61 L424.04,81.44 L427.59,80.29 L431.14,79.13 L434.69,77.95 L438.24,76.73 L441.79,75.49 L445.34,74.24 L448.89,72.92 L452.44,71.45 L456,69.73 L459.55,68.02 L463.1,66.4 L466.65,64.81 L470.2,63.26"/><path d="M38.1,140.28 L47,139.74 L55.9,139.18 L64.8,138.58 L73.7,137.94 L82.6,137.26 L91.5,136.56 L100.4,135.85 L109.3,135.12 L118.2,134.35 L127.1,133.55 L136,132.71 L144.9,131.84 L153.8,130.93 L162.7,129.99 L171.6,129.01 L180.5,127.99 L189.4,126.97 L198.3,125.92 L207.2,124.84 L216.1,123.71 L225,122.56 L233.9,121.37 L242.8,120.15 L251.7,118.86 L260.6,117.51 L269.5,116.15 L278.4,114.86 L287.3,113.64 L296.2,112.43 L299.75,111.92 L303.3,111.38 L306.85,110.8 L310.4,110.17 L313.96,109.51 L317.51,108.81 L321.06,108.12 L324.61,107.45 L328.16,106.84 L331.71,106.32 L335.26,105.9 L338.81,105.31 L342.36,104.56 L345.91,103.9 L349.47,103.28 L353.02,102.67 L356.57,102.05 L360.12,101.38 L363.67,100.66 L367.22,99.87 L370.77,99.02 L374.32,98.1 L377.87,97.14 L381.42,96.09 L384.98,94.9 L388.53,93.65 L392.08,92.37 L395.63,91.06 L399.18,89.74 L402.73,88.42 L406.28,87.1 L409.83,85.75 L413.38,84.4 L416.93,83.1 L420.49,81.84 L424.04,80.62 L427.59,79.41 L431.14,78.2 L434.69,76.97 L438.24,75.7 L441.79,74.41 L445.34,73.11 L448.89,71.73 L452.44,70.19 L456,68.39 L459.55,66.6 L463.1,64.9 L466.65,63.23 L470.2,61.61"/><path d="M38.1,138.85 L47,138.29 L55.9,137.68 L64.8,137.04 L73.7,136.34 L82.6,135.59 L91.5,134.84 L100.4,134.11 L109.3,133.37 L118.2,132.62 L127.1,131.82 L136,130.98 L144.9,130.08 L153.8,129.15 L162.7,128.18 L171.6,127.18 L180.5,126.17 L189.4,125.15 L198.3,124.12 L207.2,123.08 L216.1,122.02 L225,120.94 L233.9,119.84 L242.8,118.72 L251.7,117.51 L260.6,116.25 L269.5,115.02 L278.4,113.86 L287.3,112.78 L296.2,111.68 L299.75,111.2 L303.3,110.7 L306.85,110.14 L310.4,109.54 L313.96,108.9 L317.51,108.22 L321.06,107.55 L324.61,106.9 L328.16,106.32 L331.71,105.84 L335.26,105.48 L338.81,104.92 L342.36,104.19 L345.91,103.55 L349.47,102.95 L353.02,102.36 L356.57,101.75 L360.12,101.09 L363.67,100.38 L367.22,99.59 L370.77,98.74 L374.32,97.82 L377.87,96.85 L381.42,95.78 L384.98,94.57 L388.53,93.29 L392.08,91.98 L395.63,90.63 L399.18,89.26 L402.73,87.9 L406.28,86.54 L409.83,85.14 L413.38,83.73 L416.93,82.37 L420.49,81.06 L424.04,79.79 L427.59,78.53 L431.14,77.27 L434.69,75.99 L438.24,74.66 L441.79,73.32 L445.34,71.96 L448.89,70.52 L452.44,68.92 L456,67.04 L459.55,65.16 L463.1,63.38 L466.65,61.64 L470.2,59.95"/><path d="M38.1,138.85 L47,138.29 L55.9,137.68 L64.8,137.04 L73.7,136.34 L82.6,135.59 L91.5,134.84 L100.4,134.11 L109.3,133.37 L118.2,132.62 L127.1,131.82 L136,130.98 L144.9,130.08 L153.8,129.15 L162.7,128.18 L171.6,127.18 L180.5,126.17 L189.4,125.15 L198.3,124.12 L207.2,123.07 L216.1,122 L225,120.91 L233.9,119.8 L242.8,118.65 L251.7,117.43 L260.6,116.15 L269.5,114.9 L278.4,113.72 L287.3,112.63 L296.2,111.52 L299.75,111.04 L303.3,110.53 L306.85,109.97 L310.4,109.35 L313.96,108.7 L317.51,108.01 L321.06,107.33 L324.61,106.68 L328.16,106.1 L331.71,105.62 L335.26,105.26 L338.81,104.7 L342.36,103.97 L345.91,103.32 L349.47,102.72 L353.02,102.13 L356.57,101.51 L360.12,100.85 L363.67,100.13 L367.22,99.33 L370.77,98.47 L374.32,97.54 L377.87,96.55 L381.42,95.47 L384.98,94.24 L388.53,92.93 L392.08,91.58 L395.63,90.19 L399.18,88.78 L402.73,87.37 L406.28,85.96 L409.83,84.51 L413.38,83.05 L416.93,81.63 L420.49,80.27 L424.04,78.95 L427.59,77.64 L431.14,76.32 L434.69,74.99 L438.24,73.61 L441.79,72.21 L445.34,70.8 L448.89,69.3 L452.44,67.63 L456,65.66 L459.55,63.7 L463.1,61.85 L466.65,60.03 L470.2,58.26"/><path d="M38.1,138.85 L47,138.29 L55.9,137.68 L64.8,137.04 L73.7,136.34 L82.6,135.59 L91.5,134.84 L100.4,134.11 L109.3,133.37 L118.2,132.62 L127.1,131.82 L136,130.98 L144.9,130.08 L153.8,129.15 L162.7,128.18 L171.6,127.18 L180.5,126.17 L189.4,125.15 L198.3,124.11 L207.2,123.06 L216.1,121.98 L225,120.88 L233.9,119.75 L242.8,118.59 L251.7,117.35 L260.6,116.05 L269.5,114.78 L278.4,113.59 L287.3,112.48 L296.2,111.36 L299.75,110.88 L303.3,110.35 L306.85,109.79 L310.4,109.17 L313.96,108.5 L317.51,107.81 L321.06,107.11 L324.61,106.45 L328.16,105.87 L331.71,105.39 L335.26,105.04 L338.81,104.48 L342.36,103.74 L345.91,103.09 L349.47,102.49 L353.02,101.89 L356.57,101.27 L360.12,100.61 L363.67,99.88 L367.22,99.08 L370.77,98.2 L374.32,97.26 L377.87,96.26 L381.42,95.16 L384.98,93.91 L388.53,92.57 L392.08,91.18 L395.63,89.75 L399.18,88.3 L402.73,86.84 L406.28,85.39 L409.83,83.88 L413.38,82.37 L416.93,80.89 L420.49,79.48 L424.04,78.1 L427.59,76.73 L431.14,75.37 L434.69,73.98 L438.24,72.54 L441.79,71.09 L445.34,69.62 L448.89,68.06 L452.44,66.32 L456,64.27 L459.55,62.23 L463.1,60.29 L466.65,58.4 L470.2,56.55"/><path d="M38.1,138.85 L47,138.29 L55.9,137.68 L64.8,137.04 L73.7,136.34 L82.6,135.59 L91.5,134.84 L100.4,134.11 L109.3,133.37 L118.2,132.62 L127.1,131.82 L136,130.98 L144.9,130.08 L153.8,129.15 L162.7,128.18 L171.6,127.18 L180.5,126.17 L189.4,125.15 L198.3,124.11 L207.2,123.05 L216.1,121.96 L225,120.85 L233.9,119.7 L242.8,118.53 L251.7,117.26 L260.6,115.95 L269.5,114.66 L278.4,113.46 L287.3,112.34 L296.2,111.2 L299.75,110.71 L303.3,110.18 L306.85,109.61 L310.4,108.98 L313.96,108.31 L317.51,107.6 L321.06,106.9 L324.61,106.23 L328.16,105.64 L331.71,105.16 L335.26,104.82 L338.81,104.26 L342.36,103.52 L345.91,102.86 L349.47,102.26 L353.02,101.66 L356.57,101.04 L360.12,100.36 L363.67,99.63 L367.22,98.82 L370.77,97.94 L374.32,96.98 L377.87,95.97 L381.42,94.84 L384.98,93.57 L388.53,92.2 L392.08,90.78 L395.63,89.31 L399.18,87.81 L402.73,86.31 L406.28,84.8 L409.83,83.24 L413.38,81.67 L416.93,80.14 L420.49,78.67 L424.04,77.24 L427.59,75.82 L431.14,74.4 L434.69,72.96 L438.24,71.47 L441.79,69.96 L445.34,68.43 L448.89,66.81 L452.44,65 L456,62.87 L459.55,60.74 L463.1,58.72 L466.65,56.75 L470.2,54.83"/><path d="M38.1,138.85 L47,138.29 L55.9,137.68 L64.8,137.04 L73.7,136.34 L82.6,135.59 L91.5,134.84 L100.4,134.11 L109.3,133.37 L118.2,132.62 L127.1,131.82 L136,130.98 L144.9,130.08 L153.8,129.15 L162.7,128.18 L171.6,127.18 L180.5,126.17 L189.4,125.15 L198.3,124.11 L207.2,123.04 L216.1,121.94 L225,120.82 L233.9,119.66 L242.8,118.46 L251.7,117.18 L260.6,115.85 L269.5,114.54 L278.4,113.32 L287.3,112.19 L296.2,111.04 L299.75,110.55 L303.3,110.01 L306.85,109.43 L310.4,108.79 L313.96,108.11 L317.51,107.39 L321.06,106.68 L324.61,106.01 L328.16,105.41 L331.71,104.94 L335.26,104.6 L338.81,104.04 L342.36,103.29 L345.91,102.64 L349.47,102.03 L353.02,101.43 L356.57,100.8 L360.12,100.12 L363.67,99.38 L367.22,98.56 L370.77,97.67 L374.32,96.7 L377.87,95.67 L381.42,94.53 L384.98,93.23 L388.53,91.84 L392.08,90.38 L395.63,88.86 L399.18,87.32 L402.73,85.77 L406.28,84.22 L409.83,82.6 L413.38,80.97 L416.93,79.38 L420.49,77.86 L424.04,76.37 L427.59,74.9 L431.14,73.42 L434.69,71.92 L438.24,70.38 L441.79,68.81 L445.34,67.23 L448.89,65.55 L452.44,63.67 L456,61.45 L459.55,59.23 L463.1,57.13 L466.65,55.08 L470.2,53.08"/></g>
<path d="M35.4,199.6 L35.45,197.57 L35.5,195.61 L35.55,193.75 L35.6,192 L35.67,189.29 L35.75,186.55 L35.83,184.29 L35.9,183 L36.17,181.15 L36.45,180.02 L36.73,179.25 L37,178.5 L37.45,177.17 L37.9,175.99 L38.35,174.99 L38.8,174.2 L39.95,172.72 L41.1,171.59 L42.25,170.64 L43.4,169.7 L44.62,168.69 L45.85,167.75 L47.07,166.86 L48.3,166 L49.57,165.13 L50.85,164.31 L52.12,163.5 L53.4,162.7 L54.3,162.12 L55.2,161.54 L56.1,160.99 L57,160.5 L58.17,159.96 L59.35,159.47 L60.53,159.03 L61.7,158.6 L65.28,157.39 L68.85,156.28 L72.42,155.23 L76,154.2 L80.25,152.96 L84.5,151.73 L88.75,150.59 L93,149.6 L97.53,148.71 L102.05,147.93 L106.57,147.21 L111.1,146.5 L116.4,145.68 L121.7,144.9 L127,144.14 L132.3,143.4 L137.58,142.67 L142.85,141.96 L148.12,141.26 L153.4,140.6 L158.7,139.98 L164,139.38 L169.3,138.8 L174.6,138.2 L178.45,137.75 L182.3,137.29 L186.15,136.84 L190,136.4 L205,134.83 L220,133.35 L235,131.9 L250,130.4 L261.43,129.22 L272.85,128.02 L284.27,126.81 L295.7,125.6 L304.27,124.7 L312.85,123.79 L321.43,122.87 L330,121.9 L342.88,120.39 L355.75,118.82 L368.62,117.14 L381.5,115.3 L388.62,114.19 L395.75,113 L402.88,111.71 L410,110.3 L415.75,109.06 L421.5,107.71 L427.25,106.23 L433,104.6 L434.75,104.04 L436.5,103.42 L438.25,102.79 L440,102.2 L442.02,101.57 L444.05,100.98 L446.08,100.39 L448.1,99.8 L450.12,99.25 L452.15,98.72 L454.18,98.14 L456.2,97.4 L457.2,96.94 L458.2,96.38 L459.2,95.71 L460.2,94.9 L461.02,94.02 L461.85,92.89 L462.68,91.56 L463.5,90.1 L464.1,88.9 L464.7,87.53 L465.3,86.02 L465.9,84.4 L466.4,82.95 L466.9,81.36 L467.4,79.67 L467.9,77.9 L468.2,76.76 L468.5,75.56 L468.8,74.32 L469.1,73.1 L469.33,72.2 L469.55,71.3 L469.77,70.4 L470,69.5" class="solid"/>
<path d="M35.2,243.2v-4.3M35.2,17.5v4.3 M35.2,243.2h4.3M470.2,243.2h-4.3 M78.7,243.2v-4.3M78.7,17.5v4.3 M35.2,220.63h4.3M470.2,220.63h-4.3 M122.2,243.2v-4.3M122.2,17.5v4.3 M35.2,198.06h4.3M470.2,198.06h-4.3 M165.7,243.2v-4.3M165.7,17.5v4.3 M35.2,175.49h4.3M470.2,175.49h-4.3 M209.2,243.2v-4.3M209.2,17.5v4.3 M35.2,152.92h4.3M470.2,152.92h-4.3 M252.7,243.2v-4.3M252.7,17.5v4.3 M35.2,130.35h4.3M470.2,130.35h-4.3 M296.2,243.2v-4.3M296.2,17.5v4.3 M35.2,107.78h4.3M470.2,107.78h-4.3 M339.7,243.2v-4.3M339.7,17.5v4.3 M35.2,85.21h4.3M470.2,85.21h-4.3 M383.2,243.2v-4.3M383.2,17.5v4.3 M35.2,62.64h4.3M470.2,62.64h-4.3 M426.7,243.2v-4.3M426.7,17.5v4.3 M35.2,40.07h4.3M470.2,40.07h-4.3 M470.2,243.2v-4.3M470.2,17.5v4.3 M35.2,17.5h4.3M470.2,17.5h-4.3" class="tick"/>
<path d="M35.2,17.5V243.2H470.2" class="boxlb"/>
<path d="M35.2,17.5H470.2V243.2" class="boxtr"/>
<g class="tl"><text transform="translate(35.2,253.2) scale(1.0,1)" text-anchor="middle">0</text>
<text transform="translate(78.7,253.2) scale(1.0,1)" text-anchor="middle">0.1</text>
<text transform="translate(122.2,253.2) scale(1.0,1)" text-anchor="middle">0.2</text>
<text transform="translate(165.7,253.2) scale(1.0,1)" text-anchor="middle">0.3</text>
<text transform="translate(209.2,253.2) scale(1.0,1)" text-anchor="middle">0.4</text>
<text transform="translate(252.7,253.2) scale(1.0,1)" text-anchor="middle">0.5</text>
<text transform="translate(296.2,253.2) scale(1.0,1)" text-anchor="middle">0.6</text>
<text transform="translate(339.7,253.2) scale(1.0,1)" text-anchor="middle">0.7</text>
<text transform="translate(383.2,253.2) scale(1.0,1)" text-anchor="middle">0.8</text>
<text transform="translate(426.7,253.2) scale(1.0,1)" text-anchor="middle">0.9</text>
<text transform="translate(470.2,253.2) scale(1.0,1)" text-anchor="middle">1</text>
<text transform="translate(33.6,246.6) scale(1.0,1)" text-anchor="end">0</text>
<text transform="translate(33.6,224.03) scale(1.0,1)" text-anchor="end">0.1</text>
<text transform="translate(33.6,201.46) scale(1.0,1)" text-anchor="end">0.2</text>
<text transform="translate(33.6,178.89) scale(1.0,1)" text-anchor="end">0.3</text>
<text transform="translate(33.6,156.32) scale(1.0,1)" text-anchor="end">0.4</text>
<text transform="translate(33.6,133.75) scale(1.0,1)" text-anchor="end">0.5</text>
<text transform="translate(33.6,111.18) scale(1.0,1)" text-anchor="end">0.6</text>
<text transform="translate(33.6,88.61) scale(1.0,1)" text-anchor="end">0.7</text>
<text transform="translate(33.6,66.04) scale(1.0,1)" text-anchor="end">0.8</text>
<text transform="translate(33.6,43.47) scale(1.0,1)" text-anchor="end">0.9</text>
<text transform="translate(33.6,20.9) scale(1.0,1)" text-anchor="end">1</text></g>
<path d="M78.9,301.3V526.6 M122.6,301.3V526.6 M166.3,301.3V526.6 M210,301.3V526.6 M253.7,301.3V526.6 M297.4,301.3V526.6 M341.1,301.3V526.6 M384.8,301.3V526.6 M428.5,301.3V526.6 M35.2,504.07H472.2 M35.2,481.54H472.2 M35.2,459.01H472.2 M35.2,436.48H472.2 M35.2,413.95H472.2 M35.2,391.42H472.2 M35.2,368.89H472.2 M35.2,346.36H472.2 M35.2,323.83H472.2" class="grid"/>
<path d="M38.11,420.98 L47.05,420.4 L56,419.78 L64.94,419.11 L73.88,418.37 L82.82,417.58 L91.76,416.79 L100.7,416.04 L109.64,415.3 L118.58,414.56 L127.52,413.77 L136.46,412.92 L145.4,412.01 L154.35,411.06 L163.29,410.08 L172.23,409.07 L181.17,408.06 L190.11,407.04 L199.05,406.02 L207.99,404.99 L216.93,403.95 L225.87,402.88 L234.81,401.79 L243.75,400.67 L252.7,399.46 L261.64,398.21 L270.58,396.99 L279.52,395.88 L288.46,394.88 L297.4,393.93 L300.97,393.56 L304.53,393.21 L308.1,392.85 L311.67,392.51 L315.24,392.16 L318.8,391.83 L322.37,391.49 L325.94,391.16 L329.51,390.83 L333.07,390.5 L336.64,390.18 L340.21,389.86 L343.78,389.54 L347.34,389.22 L350.91,388.91 L354.48,388.61 L358.04,388.31 L361.61,388.01 L365.18,387.72 L368.75,387.44 L372.31,387.16 L375.88,386.9 L379.45,386.64 L383.02,386.39 L386.58,386.15 L390.15,385.92 L393.72,385.69 L397.29,385.47 L400.85,385.25 L404.42,385.03 L407.99,384.81 L411.56,384.58 L415.12,384.35 L418.69,384.12 L422.26,383.88 L425.82,383.64 L429.39,383.4 L432.96,383.16 L436.53,382.92 L440.09,382.68 L443.66,382.44 L447.23,382.21 L450.8,381.99 L454.36,381.77 L457.93,381.57 L461.5,381.38 L465.07,381.18 L468.63,380.93 L472.2,380.61" class="dash"/>
<path d="M38.11,429.92 L47.05,429.49 L56,429.05 L64.94,428.62 L73.88,428.22 L82.82,427.81 L91.76,427.34 L100.7,426.73 L109.64,426 L118.58,425.19 L127.52,424.36 L136.46,423.55 L145.4,422.75 L154.35,421.94 L163.29,421.11 L172.23,420.23 L181.17,419.3 L190.11,418.31 L199.05,417.24 L207.99,416.1 L216.93,414.89 L225.87,413.61 L234.81,412.26 L243.75,410.84 L252.7,409.34 L261.64,407.78 L270.58,406.04 L279.52,404.1 L288.46,402.06 L297.4,399.98 L300.97,399.16 L304.53,398.35 L308.1,397.54 L311.67,396.72 L315.24,395.88 L318.8,395.04 L322.37,394.18 L325.94,393.29 L329.51,392.38 L333.07,391.44 L336.64,390.48 L340.21,389.5 L343.78,388.5 L347.34,387.49 L350.91,386.46 L354.48,385.43 L358.04,384.39 L361.61,383.35 L365.18,382.3 L368.75,381.23 L372.31,380.15 L375.88,379.04 L379.45,377.91 L383.02,376.72 L386.58,375.41 L390.15,374.01 L393.72,372.55 L397.29,371.04 L400.85,369.5 L404.42,367.95 L407.99,366.4 L411.56,364.79 L415.12,363.16 L418.69,361.58 L422.26,360.05 L425.82,358.57 L429.39,357.1 L432.96,355.63 L436.53,354.13 L440.09,352.59 L443.66,351.02 L447.23,349.45 L450.8,347.77 L454.36,345.89 L457.93,343.67 L461.5,341.46 L465.07,339.37 L468.63,337.32 L472.2,335.32" class="dash"/>
<g class="gray grayb"><path d="M38.11,429.42 L47.05,428.99 L56,428.56 L64.94,428.12 L73.88,427.72 L82.82,427.31 L91.76,426.92 L100.7,426.9 L109.64,426.95 L118.58,426.67 L127.52,425.86 L136.46,425 L145.4,424.11 L154.35,423.2 L163.29,422.26 L172.23,421.29 L181.17,420.29 L190.11,419.26 L199.05,418.19 L207.99,417.06 L216.93,415.88 L225.87,414.68 L234.81,413.46 L243.75,412.05 L252.7,410.47 L261.64,408.44 L270.58,405.72 L279.52,402.7 L288.46,399.77 L297.4,397.06 L300.97,396.06 L304.53,395.11 L308.1,394.21 L311.67,393.38 L315.24,392.61 L318.8,391.92 L322.37,391.32 L325.94,390.79 L329.51,390.36 L333.07,390 L336.64,389.68 L340.21,389.36 L343.78,389.04 L347.34,388.72 L350.91,388.41 L354.48,388.11 L358.04,387.81 L361.61,387.51 L365.18,387.22 L368.75,386.94 L372.31,386.67 L375.88,386.4 L379.45,386.14 L383.02,385.89 L386.58,385.52 L390.15,384.74 L393.72,384.07 L397.29,383.44 L400.85,382.83 L404.42,382.27 L407.99,381.74 L411.56,381.25 L415.12,380.81 L418.69,380.41 L422.26,380.04 L425.82,379.69 L429.39,379.36 L432.96,379.04 L436.53,378.73 L440.09,378.43 L443.66,378.14 L447.23,377.83 L450.8,377.53 L454.36,377.24 L457.93,376.95 L461.5,376.67 L465.07,376.4 L468.63,376.13 L472.2,375.87"/><path d="M38.11,429.42 L47.05,428.99 L56,428.56 L64.94,428.12 L73.88,427.72 L82.82,427.31 L91.76,426.92 L100.7,426.9 L109.64,426.95 L118.58,426.67 L127.52,425.86 L136.46,425 L145.4,424.11 L154.35,423.2 L163.29,422.26 L172.23,421.29 L181.17,420.29 L190.11,419.26 L199.05,418.18 L207.99,417.05 L216.93,415.86 L225.87,414.65 L234.81,413.4 L243.75,411.98 L252.7,410.38 L261.64,408.34 L270.58,405.61 L279.52,402.6 L288.46,399.69 L297.4,397.01 L300.97,396.01 L304.53,395.07 L308.1,394.18 L311.67,393.35 L315.24,392.58 L318.8,391.89 L322.37,391.28 L325.94,390.76 L329.51,390.31 L333.07,389.96 L336.64,389.63 L340.21,389.3 L343.78,388.97 L347.34,388.65 L350.91,388.33 L354.48,388.01 L358.04,387.7 L361.61,387.4 L365.18,387.1 L368.75,386.81 L372.31,386.52 L375.88,386.24 L379.45,385.97 L383.02,385.71 L386.58,385.33 L390.15,384.55 L393.72,383.87 L397.29,383.24 L400.85,382.63 L404.42,382.06 L407.99,381.52 L411.56,381.03 L415.12,380.58 L418.69,380.17 L422.26,379.79 L425.82,379.43 L429.39,379.09 L432.96,378.76 L436.53,378.44 L440.09,378.13 L443.66,377.81 L447.23,377.5 L450.8,377.18 L454.36,376.87 L457.93,376.55 L461.5,376.25 L465.07,375.95 L468.63,375.66 L472.2,375.38"/><path d="M38.11,429.42 L47.05,428.99 L56,428.56 L64.94,428.12 L73.88,427.72 L82.82,427.31 L91.76,426.92 L100.7,426.9 L109.64,426.95 L118.58,426.67 L127.52,425.86 L136.46,425 L145.4,424.11 L154.35,423.2 L163.29,422.26 L172.23,421.29 L181.17,420.29 L190.11,419.26 L199.05,418.18 L207.99,417.03 L216.93,415.84 L225.87,414.61 L234.81,413.35 L243.75,411.91 L252.7,410.28 L261.64,408.23 L270.58,405.5 L279.52,402.51 L288.46,399.61 L297.4,396.95 L300.97,395.97 L304.53,395.03 L308.1,394.14 L311.67,393.32 L315.24,392.56 L318.8,391.86 L322.37,391.25 L325.94,390.72 L329.51,390.27 L333.07,389.91 L336.64,389.59 L340.21,389.25 L343.78,388.9 L347.34,388.57 L350.91,388.24 L354.48,387.92 L358.04,387.6 L361.61,387.28 L365.18,386.97 L368.75,386.67 L372.31,386.37 L375.88,386.07 L379.45,385.79 L383.02,385.51 L386.58,385.11 L390.15,384.32 L393.72,383.63 L397.29,382.98 L400.85,382.36 L404.42,381.78 L407.99,381.23 L411.56,380.72 L415.12,380.26 L418.69,379.83 L422.26,379.43 L425.82,379.06 L429.39,378.7 L432.96,378.36 L436.53,378.02 L440.09,377.68 L443.66,377.34 L447.23,377 L450.8,376.66 L454.36,376.32 L457.93,375.97 L461.5,375.63 L465.07,375.3 L468.63,374.98 L472.2,374.66"/><path d="M38.11,429.42 L47.05,428.99 L56,428.56 L64.94,428.12 L73.88,427.72 L82.82,427.31 L91.76,426.92 L100.7,426.9 L109.64,426.95 L118.58,426.67 L127.52,425.86 L136.46,425 L145.4,424.11 L154.35,423.2 L163.29,422.26 L172.23,421.29 L181.17,420.29 L190.11,419.26 L199.05,418.18 L207.99,417.02 L216.93,415.82 L225.87,414.57 L234.81,413.29 L243.75,411.83 L252.7,410.19 L261.64,408.13 L270.58,405.4 L279.52,402.41 L288.46,399.53 L297.4,396.9 L300.97,395.92 L304.53,394.99 L308.1,394.11 L311.67,393.29 L315.24,392.53 L318.8,391.84 L322.37,391.22 L325.94,390.68 L329.51,390.23 L333.07,389.87 L336.64,389.54 L340.21,389.2 L343.78,388.84 L347.34,388.49 L350.91,388.15 L354.48,387.82 L358.04,387.49 L361.61,387.17 L365.18,386.84 L368.75,386.52 L372.31,386.2 L375.88,385.89 L379.45,385.59 L383.02,385.29 L386.58,384.87 L390.15,384.07 L393.72,383.37 L397.29,382.7 L400.85,382.06 L404.42,381.46 L407.99,380.9 L411.56,380.37 L415.12,379.89 L418.69,379.44 L422.26,379.02 L425.82,378.63 L429.39,378.25 L432.96,377.89 L436.53,377.52 L440.09,377.16 L443.66,376.79 L447.23,376.43 L450.8,376.05 L454.36,375.68 L457.93,375.29 L461.5,374.91 L465.07,374.54 L468.63,374.18 L472.2,373.82"/><path d="M38.11,429.42 L47.05,428.99 L56,428.56 L64.94,428.12 L73.88,427.72 L82.82,427.31 L91.76,426.92 L100.7,426.9 L109.64,426.95 L118.58,426.67 L127.52,425.86 L136.46,425 L145.4,424.11 L154.35,423.2 L163.29,422.26 L172.23,421.29 L181.17,420.29 L190.11,419.26 L199.05,418.17 L207.99,417.01 L216.93,415.79 L225.87,414.53 L234.81,413.24 L243.75,411.76 L252.7,410.1 L261.64,408.02 L270.58,405.29 L279.52,402.31 L288.46,399.45 L297.4,396.84 L300.97,395.87 L304.53,394.95 L308.1,394.08 L311.67,393.26 L315.24,392.5 L318.8,391.81 L322.37,391.19 L325.94,390.65 L329.51,390.19 L333.07,389.82 L336.64,389.49 L340.21,389.14 L343.78,388.77 L347.34,388.41 L350.91,388.06 L354.48,387.72 L358.04,387.38 L361.61,387.05 L365.18,386.71 L368.75,386.37 L372.31,386.04 L375.88,385.7 L379.45,385.38 L383.02,385.06 L386.58,384.61 L390.15,383.8 L393.72,383.08 L397.29,382.4 L400.85,381.74 L404.42,381.12 L407.99,380.54 L411.56,379.99 L415.12,379.48 L418.69,379.01 L422.26,378.57 L425.82,378.16 L429.39,377.76 L432.96,377.37 L436.53,376.97 L440.09,376.58 L443.66,376.19 L447.23,375.79 L450.8,375.38 L454.36,374.97 L457.93,374.53 L461.5,374.11 L465.07,373.69 L468.63,373.29 L472.2,372.89"/><path d="M38.11,428.39 L47.05,427.94 L56,427.48 L64.94,427.02 L73.88,426.57 L82.82,426.11 L91.76,425.67 L100.7,425.56 L109.64,425.5 L118.58,425.16 L127.52,424.36 L136.46,423.49 L145.4,422.6 L154.35,421.69 L163.29,420.74 L172.23,419.77 L181.17,418.77 L190.11,417.74 L199.05,416.67 L207.99,415.54 L216.93,414.37 L225.87,413.17 L234.81,411.94 L243.75,410.55 L252.7,408.99 L261.64,407.05 L270.58,404.52 L279.52,401.76 L288.46,399.1 L297.4,396.63 L300.97,395.71 L304.53,394.82 L308.1,393.98 L311.67,393.18 L315.24,392.43 L318.8,391.74 L322.37,391.12 L325.94,390.57 L329.51,390.11 L333.07,389.74 L336.64,389.42 L340.21,389.06 L343.78,388.67 L347.34,388.3 L350.91,387.95 L354.48,387.6 L358.04,387.25 L361.61,386.91 L365.18,386.56 L368.75,386.21 L372.31,385.86 L375.88,385.51 L379.45,385.16 L383.02,384.82 L386.58,384.35 L390.15,383.53 L393.72,382.79 L397.29,382.08 L400.85,381.41 L404.42,380.76 L407.99,380.16 L411.56,379.58 L415.12,379.05 L418.69,378.55 L422.26,378.09 L425.82,377.65 L429.39,377.22 L432.96,376.8 L436.53,376.38 L440.09,375.96 L443.66,375.53 L447.23,375.1 L450.8,374.66 L454.36,374.2 L457.93,373.72 L461.5,373.24 L465.07,372.78 L468.63,372.33 L472.2,371.89"/><path d="M38.11,428.39 L47.05,427.94 L56,427.48 L64.94,427.02 L73.88,426.57 L82.82,426.11 L91.76,425.67 L100.7,425.56 L109.64,425.5 L118.58,425.16 L127.52,424.36 L136.46,423.49 L145.4,422.6 L154.35,421.69 L163.29,420.74 L172.23,419.77 L181.17,418.77 L190.11,417.74 L199.05,416.66 L207.99,415.53 L216.93,414.35 L225.87,413.13 L234.81,411.88 L243.75,410.47 L252.7,408.9 L261.64,406.94 L270.58,404.41 L279.52,401.66 L288.46,399.02 L297.4,396.58 L300.97,395.66 L304.53,394.79 L308.1,393.95 L311.67,393.15 L315.24,392.4 L318.8,391.71 L322.37,391.08 L325.94,390.53 L329.51,390.07 L333.07,389.7 L336.64,389.37 L340.21,389.01 L343.78,388.6 L347.34,388.22 L350.91,387.86 L354.48,387.5 L358.04,387.14 L361.61,386.78 L365.18,386.42 L368.75,386.05 L372.31,385.68 L375.88,385.31 L379.45,384.95 L383.02,384.57 L386.58,384.08 L390.15,383.24 L393.72,382.49 L397.29,381.76 L400.85,381.06 L404.42,380.39 L407.99,379.76 L411.56,379.16 L415.12,378.59 L418.69,378.07 L422.26,377.58 L425.82,377.11 L429.39,376.65 L432.96,376.21 L436.53,375.75 L440.09,375.29 L443.66,374.83 L447.23,374.37 L450.8,373.89 L454.36,373.39 L457.93,372.85 L461.5,372.32 L465.07,371.82 L468.63,371.32 L472.2,370.83"/><path d="M38.11,428.39 L47.05,427.94 L56,427.48 L64.94,427.02 L73.88,426.57 L82.82,426.11 L91.76,425.67 L100.7,425.56 L109.64,425.5 L118.58,425.16 L127.52,424.36 L136.46,423.49 L145.4,422.6 L154.35,421.69 L163.29,420.74 L172.23,419.77 L181.17,418.77 L190.11,417.74 L199.05,416.66 L207.99,415.52 L216.93,414.32 L225.87,413.09 L234.81,411.83 L243.75,410.4 L252.7,408.81 L261.64,406.84 L270.58,404.3 L279.52,401.56 L288.46,398.94 L297.4,396.52 L300.97,395.62 L304.53,394.75 L308.1,393.91 L311.67,393.12 L315.24,392.37 L318.8,391.68 L322.37,391.05 L325.94,390.5 L329.51,390.03 L333.07,389.65 L336.64,389.32 L340.21,388.95 L343.78,388.54 L347.34,388.14 L350.91,387.77 L354.48,387.4 L358.04,387.03 L361.61,386.66 L365.18,386.28 L368.75,385.9 L372.31,385.51 L375.88,385.12 L379.45,384.72 L383.02,384.33 L386.58,383.81 L390.15,382.95 L393.72,382.17 L397.29,381.42 L400.85,380.7 L404.42,380 L407.99,379.34 L411.56,378.71 L415.12,378.12 L418.69,377.56 L422.26,377.04 L425.82,376.54 L429.39,376.06 L432.96,375.58 L436.53,375.09 L440.09,374.6 L443.66,374.1 L447.23,373.6 L450.8,373.08 L454.36,372.54 L457.93,371.95 L461.5,371.36 L465.07,370.8 L468.63,370.25 L472.2,369.71"/><path d="M38.11,428.39 L47.05,427.94 L56,427.48 L64.94,427.02 L73.88,426.57 L82.82,426.11 L91.76,425.67 L100.7,425.56 L109.64,425.5 L118.58,425.16 L127.52,424.36 L136.46,423.49 L145.4,422.6 L154.35,421.69 L163.29,420.74 L172.23,419.77 L181.17,418.77 L190.11,417.74 L199.05,416.66 L207.99,415.51 L216.93,414.3 L225.87,413.06 L234.81,411.77 L243.75,410.33 L252.7,408.71 L261.64,406.73 L270.58,404.19 L279.52,401.47 L288.46,398.86 L297.4,396.47 L300.97,395.57 L304.53,394.71 L308.1,393.88 L311.67,393.09 L315.24,392.35 L318.8,391.65 L322.37,391.02 L325.94,390.46 L329.51,389.99 L333.07,389.61 L336.64,389.28 L340.21,388.9 L343.78,388.47 L347.34,388.07 L350.91,387.68 L354.48,387.3 L358.04,386.92 L361.61,386.54 L365.18,386.14 L368.75,385.74 L372.31,385.33 L375.88,384.92 L379.45,384.5 L383.02,384.07 L386.58,383.53 L390.15,382.65 L393.72,381.85 L397.29,381.07 L400.85,380.32 L404.42,379.6 L407.99,378.91 L411.56,378.25 L415.12,377.62 L418.69,377.04 L422.26,376.48 L425.82,375.95 L429.39,375.44 L432.96,374.92 L436.53,374.4 L440.09,373.87 L443.66,373.33 L447.23,372.79 L450.8,372.24 L454.36,371.64 L457.93,371 L461.5,370.35 L465.07,369.74 L468.63,369.13 L472.2,368.55"/><path d="M38.11,428.39 L47.05,427.94 L56,427.48 L64.94,427.02 L73.88,426.57 L82.82,426.11 L91.76,425.67 L100.7,425.56 L109.64,425.5 L118.58,425.16 L127.52,424.36 L136.46,423.49 L145.4,422.6 L154.35,421.69 L163.29,420.74 L172.23,419.77 L181.17,418.77 L190.11,417.74 L199.05,416.65 L207.99,415.49 L216.93,414.28 L225.87,413.02 L234.81,411.72 L243.75,410.25 L252.7,408.62 L261.64,406.63 L270.58,404.09 L279.52,401.37 L288.46,398.78 L297.4,396.41 L300.97,395.52 L304.53,394.67 L308.1,393.85 L311.67,393.06 L315.24,392.32 L318.8,391.62 L322.37,390.99 L325.94,390.42 L329.51,389.95 L333.07,389.56 L336.64,389.23 L340.21,388.85 L343.78,388.4 L347.34,387.99 L350.91,387.59 L354.48,387.2 L358.04,386.81 L361.61,386.41 L365.18,386.01 L368.75,385.58 L372.31,385.15 L375.88,384.71 L379.45,384.27 L383.02,383.82 L386.58,383.24 L390.15,382.35 L393.72,381.52 L397.29,380.72 L400.85,379.94 L404.42,379.19 L407.99,378.47 L411.56,377.78 L415.12,377.11 L418.69,376.49 L422.26,375.9 L425.82,375.34 L429.39,374.79 L432.96,374.24 L436.53,373.69 L440.09,373.11 L443.66,372.54 L447.23,371.96 L450.8,371.36 L454.36,370.72 L457.93,370.01 L461.5,369.31 L465.07,368.63 L468.63,367.98 L472.2,367.34"/><path d="M38.11,427.28 L47.05,426.8 L56,426.32 L64.94,425.82 L73.88,425.33 L82.82,424.82 L91.76,424.32 L100.7,424.1 L109.64,423.94 L118.58,423.53 L127.52,422.73 L136.46,421.87 L145.4,420.98 L154.35,420.06 L163.29,419.11 L172.23,418.13 L181.17,417.12 L190.11,416.1 L199.05,415.03 L207.99,413.91 L216.93,412.75 L225.87,411.55 L234.81,410.32 L243.75,408.95 L252.7,407.43 L261.64,405.59 L270.58,403.26 L279.52,400.78 L288.46,398.4 L297.4,396.19 L300.97,395.35 L304.53,394.54 L308.1,393.74 L311.67,392.98 L315.24,392.24 L318.8,391.55 L322.37,390.91 L325.94,390.35 L329.51,389.86 L333.07,389.48 L336.64,389.15 L340.21,388.76 L343.78,388.3 L347.34,387.87 L350.91,387.47 L354.48,387.07 L358.04,386.68 L361.61,386.27 L365.18,385.85 L368.75,385.41 L372.31,384.96 L375.88,384.5 L379.45,384.04 L383.02,383.56 L386.58,382.95 L390.15,382.04 L393.72,381.19 L397.29,380.36 L400.85,379.55 L404.42,378.77 L407.99,378.02 L411.56,377.29 L415.12,376.59 L418.69,375.93 L422.26,375.31 L425.82,374.71 L429.39,374.12 L432.96,373.54 L436.53,372.94 L440.09,372.33 L443.66,371.72 L447.23,371.1 L450.8,370.45 L454.36,369.76 L457.93,368.99 L461.5,368.23 L465.07,367.5 L468.63,366.78 L472.2,366.08"/><path d="M38.11,427.28 L47.05,426.8 L56,426.32 L64.94,425.82 L73.88,425.33 L82.82,424.82 L91.76,424.32 L100.7,424.1 L109.64,423.94 L118.58,423.53 L127.52,422.73 L136.46,421.87 L145.4,420.98 L154.35,420.06 L163.29,419.11 L172.23,418.13 L181.17,417.12 L190.11,416.1 L199.05,415.03 L207.99,413.9 L216.93,412.72 L225.87,411.51 L234.81,410.27 L243.75,408.88 L252.7,407.34 L261.64,405.48 L270.58,403.16 L279.52,400.68 L288.46,398.32 L297.4,396.14 L300.97,395.31 L304.53,394.5 L308.1,393.71 L311.67,392.95 L315.24,392.22 L318.8,391.52 L322.37,390.88 L325.94,390.31 L329.51,389.82 L333.07,389.43 L336.64,389.11 L340.21,388.71 L343.78,388.23 L347.34,387.8 L350.91,387.38 L354.48,386.98 L358.04,386.56 L361.61,386.14 L365.18,385.71 L368.75,385.25 L372.31,384.78 L375.88,384.3 L379.45,383.81 L383.02,383.29 L386.58,382.66 L390.15,381.73 L393.72,380.85 L397.29,379.99 L400.85,379.15 L404.42,378.34 L407.99,377.55 L411.56,376.79 L415.12,376.05 L418.69,375.35 L422.26,374.69 L425.82,374.06 L429.39,373.44 L432.96,372.81 L436.53,372.18 L440.09,371.53 L443.66,370.87 L447.23,370.21 L450.8,369.52 L454.36,368.77 L457.93,367.94 L461.5,367.11 L465.07,366.32 L468.63,365.55 L472.2,364.79"/><path d="M38.11,427.28 L47.05,426.8 L56,426.32 L64.94,425.82 L73.88,425.33 L82.82,424.82 L91.76,424.32 L100.7,424.1 L109.64,423.94 L118.58,423.53 L127.52,422.73 L136.46,421.87 L145.4,420.98 L154.35,420.06 L163.29,419.11 L172.23,418.13 L181.17,417.12 L190.11,416.1 L199.05,415.02 L207.99,413.89 L216.93,412.7 L225.87,411.48 L234.81,410.21 L243.75,408.81 L252.7,407.25 L261.64,405.38 L270.58,403.05 L279.52,400.59 L288.46,398.25 L297.4,396.08 L300.97,395.26 L304.53,394.46 L308.1,393.68 L311.67,392.92 L315.24,392.19 L318.8,391.49 L322.37,390.85 L325.94,390.27 L329.51,389.78 L333.07,389.39 L336.64,389.06 L340.21,388.65 L343.78,388.17 L347.34,387.72 L350.91,387.29 L354.48,386.88 L358.04,386.45 L361.61,386.02 L365.18,385.57 L368.75,385.09 L372.31,384.6 L375.88,384.09 L379.45,383.57 L383.02,383.03 L386.58,382.36 L390.15,381.41 L393.72,380.5 L397.29,379.61 L400.85,378.74 L404.42,377.9 L407.99,377.08 L411.56,376.27 L415.12,375.5 L418.69,374.76 L422.26,374.06 L425.82,373.39 L429.39,372.73 L432.96,372.07 L436.53,371.4 L440.09,370.7 L443.66,370 L447.23,369.3 L450.8,368.56 L454.36,367.76 L457.93,366.86 L461.5,365.97 L465.07,365.11 L468.63,364.28 L472.2,363.47"/><path d="M38.11,427.28 L47.05,426.8 L56,426.32 L64.94,425.82 L73.88,425.33 L82.82,424.82 L91.76,424.32 L100.7,424.1 L109.64,423.94 L118.58,423.53 L127.52,422.73 L136.46,421.87 L145.4,420.98 L154.35,420.06 L163.29,419.11 L172.23,418.13 L181.17,417.12 L190.11,416.1 L199.05,415.02 L207.99,413.88 L216.93,412.68 L225.87,411.44 L234.81,410.16 L243.75,408.74 L252.7,407.16 L261.64,405.27 L270.58,402.94 L279.52,400.49 L288.46,398.17 L297.4,396.02 L300.97,395.21 L304.53,394.42 L308.1,393.64 L311.67,392.89 L315.24,392.16 L318.8,391.46 L322.37,390.82 L325.94,390.24 L329.51,389.74 L333.07,389.34 L336.64,389.02 L340.21,388.6 L343.78,388.1 L347.34,387.64 L350.91,387.2 L354.48,386.78 L358.04,386.34 L361.61,385.89 L365.18,385.42 L368.75,384.93 L372.31,384.42 L375.88,383.88 L379.45,383.34 L383.02,382.76 L386.58,382.06 L390.15,381.08 L393.72,380.15 L397.29,379.23 L400.85,378.33 L404.42,377.45 L407.99,376.59 L411.56,375.75 L415.12,374.93 L418.69,374.16 L422.26,373.42 L425.82,372.71 L429.39,372.01 L432.96,371.31 L436.53,370.59 L440.09,369.85 L443.66,369.11 L447.23,368.36 L450.8,367.57 L454.36,366.72 L457.93,365.75 L461.5,364.79 L465.07,363.88 L468.63,362.98 L472.2,362.11"/><path d="M38.11,427.28 L47.05,426.8 L56,426.32 L64.94,425.82 L73.88,425.33 L82.82,424.82 L91.76,424.32 L100.7,424.1 L109.64,423.94 L118.58,423.53 L127.52,422.73 L136.46,421.87 L145.4,420.98 L154.35,420.06 L163.29,419.11 L172.23,418.13 L181.17,417.12 L190.11,416.1 L199.05,415.02 L207.99,413.86 L216.93,412.65 L225.87,411.4 L234.81,410.1 L243.75,408.66 L252.7,407.07 L261.64,405.17 L270.58,402.83 L279.52,400.39 L288.46,398.09 L297.4,395.97 L300.97,395.16 L304.53,394.38 L308.1,393.61 L311.67,392.86 L315.24,392.13 L318.8,391.43 L322.37,390.78 L325.94,390.2 L329.51,389.7 L333.07,389.3 L336.64,388.97 L340.21,388.55 L343.78,388.03 L347.34,387.56 L350.91,387.11 L354.48,386.68 L358.04,386.23 L361.61,385.77 L365.18,385.28 L368.75,384.77 L372.31,384.23 L375.88,383.67 L379.45,383.1 L383.02,382.49 L386.58,381.75 L390.15,380.76 L393.72,379.8 L397.29,378.85 L400.85,377.91 L404.42,376.99 L407.99,376.1 L411.56,375.22 L415.12,374.36 L418.69,373.54 L422.26,372.76 L425.82,372.01 L429.39,371.27 L432.96,370.53 L436.53,369.77 L440.09,368.99 L443.66,368.2 L447.23,367.4 L450.8,366.57 L454.36,365.66 L457.93,364.62 L461.5,363.59 L465.07,362.61 L468.63,361.65 L472.2,360.72"/><path d="M38.11,426.24 L47.05,425.75 L56,425.24 L64.94,424.72 L73.88,424.18 L82.82,423.62 L91.76,423.07 L100.7,422.76 L109.64,422.49 L118.58,422.03 L127.52,421.23 L136.46,420.37 L145.4,419.47 L154.35,418.55 L163.29,417.59 L172.23,416.6 L181.17,415.6 L190.11,414.57 L199.05,413.51 L207.99,412.39 L216.93,411.23 L225.87,410.03 L234.81,408.8 L243.75,407.45 L252.7,405.95 L261.64,404.19 L270.58,402.06 L279.52,399.84 L288.46,397.73 L297.4,395.76 L300.97,395 L304.53,394.25 L308.1,393.51 L311.67,392.78 L315.24,392.06 L318.8,391.37 L322.37,390.71 L325.94,390.13 L329.51,389.62 L333.07,389.22 L336.64,388.89 L340.21,388.46 L343.78,387.93 L347.34,387.45 L350.91,387 L354.48,386.55 L358.04,386.1 L361.61,385.62 L365.18,385.12 L368.75,384.59 L372.31,384.04 L375.88,383.45 L379.45,382.85 L383.02,382.21 L386.58,381.45 L390.15,380.43 L393.72,379.44 L397.29,378.45 L400.85,377.48 L404.42,376.53 L407.99,375.6 L411.56,374.68 L415.12,373.77 L418.69,372.91 L422.26,372.09 L425.82,371.29 L429.39,370.51 L432.96,369.73 L436.53,368.93 L440.09,368.1 L443.66,367.26 L447.23,366.42 L450.8,365.54 L454.36,364.57 L457.93,363.46 L461.5,362.36 L465.07,361.32 L468.63,360.29 L472.2,359.29"/><path d="M38.11,426.24 L47.05,425.75 L56,425.24 L64.94,424.72 L73.88,424.18 L82.82,423.62 L91.76,423.07 L100.7,422.76 L109.64,422.49 L118.58,422.03 L127.52,421.23 L136.46,420.37 L145.4,419.47 L154.35,418.55 L163.29,417.59 L172.23,416.6 L181.17,415.6 L190.11,414.57 L199.05,413.51 L207.99,412.38 L216.93,411.21 L225.87,410 L234.81,408.75 L243.75,407.38 L252.7,405.86 L261.64,404.09 L270.58,401.95 L279.52,399.74 L288.46,397.65 L297.4,395.71 L300.97,394.96 L304.53,394.21 L308.1,393.48 L311.67,392.75 L315.24,392.03 L318.8,391.34 L322.37,390.68 L325.94,390.09 L329.51,389.58 L333.07,389.17 L336.64,388.85 L340.21,388.41 L343.78,387.86 L347.34,387.37 L350.91,386.91 L354.48,386.45 L358.04,385.98 L361.61,385.5 L365.18,384.98 L368.75,384.43 L372.31,383.85 L375.88,383.24 L379.45,382.61 L383.02,381.94 L386.58,381.14 L390.15,380.09 L393.72,379.07 L397.29,378.06 L400.85,377.05 L404.42,376.06 L407.99,375.09 L411.56,374.12 L415.12,373.18 L418.69,372.27 L422.26,371.4 L425.82,370.57 L429.39,369.74 L432.96,368.91 L436.53,368.07 L440.09,367.2 L443.66,366.31 L447.23,365.42 L450.8,364.49 L454.36,363.46 L457.93,362.28 L461.5,361.11 L465.07,360 L468.63,358.91 L472.2,357.84"/><path d="M38.11,426.24 L47.05,425.75 L56,425.24 L64.94,424.72 L73.88,424.18 L82.82,423.62 L91.76,423.07 L100.7,422.76 L109.64,422.49 L118.58,422.03 L127.52,421.23 L136.46,420.37 L145.4,419.47 L154.35,418.55 L163.29,417.59 L172.23,416.6 L181.17,415.6 L190.11,414.57 L199.05,413.5 L207.99,412.37 L216.93,411.19 L225.87,409.96 L234.81,408.69 L243.75,407.3 L252.7,405.77 L261.64,403.98 L270.58,401.85 L279.52,399.64 L288.46,397.57 L297.4,395.65 L300.97,394.91 L304.53,394.18 L308.1,393.45 L311.67,392.72 L315.24,392.01 L318.8,391.31 L322.37,390.65 L325.94,390.05 L329.51,389.54 L333.07,389.12 L336.64,388.8 L340.21,388.36 L343.78,387.8 L347.34,387.29 L350.91,386.82 L354.48,386.35 L358.04,385.87 L361.61,385.37 L365.18,384.84 L368.75,384.27 L372.31,383.66 L375.88,383.03 L379.45,382.37 L383.02,381.66 L386.58,380.82 L390.15,379.76 L393.72,378.71 L397.29,377.66 L400.85,376.61 L404.42,375.58 L407.99,374.58 L411.56,373.57 L415.12,372.57 L418.69,371.62 L422.26,370.71 L425.82,369.82 L429.39,368.96 L432.96,368.08 L436.53,367.19 L440.09,366.27 L443.66,365.34 L447.23,364.4 L450.8,363.42 L454.36,362.33 L457.93,361.08 L461.5,359.84 L465.07,358.65 L468.63,357.49 L472.2,356.37"/><path d="M38.11,426.24 L47.05,425.75 L56,425.24 L64.94,424.72 L73.88,424.18 L82.82,423.62 L91.76,423.07 L100.7,422.76 L109.64,422.49 L118.58,422.03 L127.52,421.23 L136.46,420.37 L145.4,419.47 L154.35,418.55 L163.29,417.59 L172.23,416.6 L181.17,415.6 L190.11,414.57 L199.05,413.5 L207.99,412.36 L216.93,411.16 L225.87,409.92 L234.81,408.64 L243.75,407.23 L252.7,405.68 L261.64,403.88 L270.58,401.74 L279.52,399.55 L288.46,397.5 L297.4,395.59 L300.97,394.86 L304.53,394.14 L308.1,393.41 L311.67,392.69 L315.24,391.98 L318.8,391.28 L322.37,390.62 L325.94,390.01 L329.51,389.5 L333.07,389.08 L336.64,388.75 L340.21,388.3 L343.78,387.73 L347.34,387.21 L350.91,386.73 L354.48,386.25 L358.04,385.76 L361.61,385.24 L365.18,384.69 L368.75,384.1 L372.31,383.47 L375.88,382.81 L379.45,382.12 L383.02,381.38 L386.58,380.51 L390.15,379.42 L393.72,378.34 L397.29,377.25 L400.85,376.17 L404.42,375.1 L407.99,374.05 L411.56,373 L415.12,371.95 L418.69,370.95 L422.26,370 L425.82,369.07 L429.39,368.16 L432.96,367.24 L436.53,366.3 L440.09,365.34 L443.66,364.36 L447.23,363.37 L450.8,362.33 L454.36,361.18 L457.93,359.86 L461.5,358.54 L465.07,357.28 L468.63,356.06 L472.2,354.86"/><path d="M38.11,426.24 L47.05,425.75 L56,425.24 L64.94,424.72 L73.88,424.18 L82.82,423.62 L91.76,423.07 L100.7,422.76 L109.64,422.49 L118.58,422.03 L127.52,421.23 L136.46,420.37 L145.4,419.47 L154.35,418.55 L163.29,417.59 L172.23,416.6 L181.17,415.6 L190.11,414.57 L199.05,413.5 L207.99,412.35 L216.93,411.14 L225.87,409.88 L234.81,408.58 L243.75,407.16 L252.7,405.59 L261.64,403.77 L270.58,401.63 L279.52,399.45 L288.46,397.42 L297.4,395.54 L300.97,394.81 L304.53,394.1 L308.1,393.38 L311.67,392.66 L315.24,391.95 L318.8,391.25 L322.37,390.59 L325.94,389.98 L329.51,389.45 L333.07,389.03 L336.64,388.71 L340.21,388.25 L343.78,387.66 L347.34,387.13 L350.91,386.64 L354.48,386.15 L358.04,385.65 L361.61,385.11 L365.18,384.55 L368.75,383.94 L372.31,383.28 L375.88,382.59 L379.45,381.87 L383.02,381.1 L386.58,380.19 L390.15,379.07 L393.72,377.96 L397.29,376.84 L400.85,375.72 L404.42,374.61 L407.99,373.52 L411.56,372.42 L415.12,371.33 L418.69,370.28 L422.26,369.28 L425.82,368.31 L429.39,367.35 L432.96,366.38 L436.53,365.4 L440.09,364.38 L443.66,363.35 L447.23,362.32 L450.8,361.22 L454.36,360.01 L457.93,358.61 L461.5,357.22 L465.07,355.89 L468.63,354.59 L472.2,353.33"/><path d="M38.11,423.86 L47.05,423.33 L56,422.76 L64.94,422.16 L73.88,421.52 L82.82,420.85 L91.76,420.18 L100.7,419.65 L109.64,419.15 L118.58,418.54 L127.52,417.75 L136.46,416.89 L145.4,415.99 L154.35,415.05 L163.29,414.08 L172.23,413.09 L181.17,412.08 L190.11,411.06 L199.05,410.02 L207.99,408.97 L216.93,407.88 L225.87,406.78 L234.81,405.66 L243.75,404.45 L252.7,403.14 L261.64,401.66 L270.58,399.99 L279.52,398.3 L288.46,396.7 L297.4,395.13 L300.97,394.5 L304.53,393.86 L308.1,393.2 L311.67,392.52 L315.24,391.82 L318.8,391.13 L322.37,390.47 L325.94,389.85 L329.51,389.33 L333.07,388.91 L336.64,388.59 L340.21,388.13 L343.78,387.52 L347.34,386.98 L350.91,386.48 L354.48,385.99 L358.04,385.48 L361.61,384.94 L365.18,384.37 L368.75,383.74 L372.31,383.07 L375.88,382.36 L379.45,381.62 L383.02,380.81 L386.58,379.87 L390.15,378.73 L393.72,377.58 L397.29,376.43 L400.85,375.27 L404.42,374.12 L407.99,372.99 L411.56,371.84 L415.12,370.7 L418.69,369.6 L422.26,368.55 L425.82,367.53 L429.39,366.52 L432.96,365.51 L436.53,364.48 L440.09,363.41 L443.66,362.33 L447.23,361.25 L450.8,360.09 L454.36,358.82 L457.93,357.35 L461.5,355.87 L465.07,354.48 L468.63,353.11 L472.2,351.78"/><path d="M38.11,423.86 L47.05,423.33 L56,422.76 L64.94,422.16 L73.88,421.52 L82.82,420.85 L91.76,420.18 L100.7,419.65 L109.64,419.15 L118.58,418.54 L127.52,417.75 L136.46,416.89 L145.4,415.99 L154.35,415.05 L163.29,414.08 L172.23,413.09 L181.17,412.08 L190.11,411.06 L199.05,410.02 L207.99,408.95 L216.93,407.86 L225.87,406.74 L234.81,405.6 L243.75,404.38 L252.7,403.05 L261.64,401.56 L270.58,399.88 L279.52,398.21 L288.46,396.62 L297.4,395.08 L300.97,394.46 L304.53,393.82 L308.1,393.17 L311.67,392.49 L315.24,391.8 L318.8,391.1 L322.37,390.43 L325.94,389.82 L329.51,389.29 L333.07,388.86 L336.64,388.54 L340.21,388.07 L343.78,387.45 L347.34,386.91 L350.91,386.39 L354.48,385.89 L358.04,385.37 L361.61,384.82 L365.18,384.22 L368.75,383.58 L372.31,382.88 L375.88,382.15 L379.45,381.37 L383.02,380.53 L386.58,379.55 L390.15,378.38 L393.72,377.2 L397.29,376.01 L400.85,374.81 L404.42,373.62 L407.99,372.44 L411.56,371.25 L415.12,370.06 L418.69,368.91 L422.26,367.81 L425.82,366.74 L429.39,365.68 L432.96,364.63 L436.53,363.55 L440.09,362.43 L443.66,361.3 L447.23,360.16 L450.8,358.95 L454.36,357.62 L457.93,356.06 L461.5,354.51 L465.07,353.04 L468.63,351.6 L472.2,350.2"/><path d="M38.11,423.86 L47.05,423.33 L56,422.76 L64.94,422.16 L73.88,421.52 L82.82,420.85 L91.76,420.18 L100.7,419.65 L109.64,419.15 L118.58,418.54 L127.52,417.75 L136.46,416.89 L145.4,415.99 L154.35,415.05 L163.29,414.08 L172.23,413.09 L181.17,412.08 L190.11,411.06 L199.05,410.02 L207.99,408.94 L216.93,407.84 L225.87,406.71 L234.81,405.55 L243.75,404.31 L252.7,402.96 L261.64,401.45 L270.58,399.78 L279.52,398.11 L288.46,396.54 L297.4,395.02 L300.97,394.41 L304.53,393.78 L308.1,393.13 L311.67,392.46 L315.24,391.77 L318.8,391.07 L322.37,390.4 L325.94,389.78 L329.51,389.24 L333.07,388.82 L336.64,388.5 L340.21,388.02 L343.78,387.39 L347.34,386.83 L350.91,386.3 L354.48,385.79 L358.04,385.25 L361.61,384.69 L365.18,384.07 L368.75,383.41 L372.31,382.69 L375.88,381.93 L379.45,381.12 L383.02,380.24 L386.58,379.22 L390.15,378.03 L393.72,376.82 L397.29,375.59 L400.85,374.35 L404.42,373.12 L407.99,371.89 L411.56,370.65 L415.12,369.41 L418.69,368.21 L422.26,367.06 L425.82,365.94 L429.39,364.84 L432.96,363.73 L436.53,362.6 L440.09,361.43 L443.66,360.25 L447.23,359.06 L450.8,357.79 L454.36,356.39 L457.93,354.76 L461.5,353.13 L465.07,351.59 L468.63,350.07 L472.2,348.6"/><path d="M38.11,423.86 L47.05,423.33 L56,422.76 L64.94,422.16 L73.88,421.52 L82.82,420.85 L91.76,420.18 L100.7,419.65 L109.64,419.15 L118.58,418.54 L127.52,417.75 L136.46,416.89 L145.4,415.99 L154.35,415.05 L163.29,414.08 L172.23,413.09 L181.17,412.08 L190.11,411.06 L199.05,410.01 L207.99,408.93 L216.93,407.82 L225.87,406.67 L234.81,405.49 L243.75,404.24 L252.7,402.87 L261.64,401.35 L270.58,399.67 L279.52,398.01 L288.46,396.46 L297.4,394.97 L300.97,394.36 L304.53,393.74 L308.1,393.1 L311.67,392.43 L315.24,391.74 L318.8,391.04 L322.37,390.37 L325.94,389.74 L329.51,389.2 L333.07,388.77 L336.64,388.45 L340.21,387.96 L343.78,387.32 L347.34,386.75 L350.91,386.21 L354.48,385.69 L358.04,385.14 L361.61,384.56 L365.18,383.93 L368.75,383.24 L372.31,382.5 L375.88,381.7 L379.45,380.87 L383.02,379.95 L386.58,378.9 L390.15,377.67 L393.72,376.43 L397.29,375.16 L400.85,373.88 L404.42,372.61 L407.99,371.34 L411.56,370.04 L415.12,368.75 L418.69,367.5 L422.26,366.3 L425.82,365.13 L429.39,363.98 L432.96,362.82 L436.53,361.64 L440.09,360.42 L443.66,359.19 L447.23,357.94 L450.8,356.62 L454.36,355.15 L457.93,353.44 L461.5,351.73 L465.07,350.11 L468.63,348.52 L472.2,346.98"/><path d="M38.11,423.86 L47.05,423.33 L56,422.76 L64.94,422.16 L73.88,421.52 L82.82,420.85 L91.76,420.18 L100.7,419.65 L109.64,419.15 L118.58,418.54 L127.52,417.75 L136.46,416.89 L145.4,415.99 L154.35,415.05 L163.29,414.08 L172.23,413.09 L181.17,412.08 L190.11,411.06 L199.05,410.01 L207.99,408.92 L216.93,407.79 L225.87,406.63 L234.81,405.44 L243.75,404.16 L252.7,402.78 L261.64,401.24 L270.58,399.56 L279.52,397.91 L288.46,396.38 L297.4,394.91 L300.97,394.32 L304.53,393.7 L308.1,393.07 L311.67,392.4 L315.24,391.71 L318.8,391.02 L322.37,390.34 L325.94,389.71 L329.51,389.16 L333.07,388.73 L336.64,388.41 L340.21,387.91 L343.78,387.25 L347.34,386.67 L350.91,386.13 L354.48,385.59 L358.04,385.03 L361.61,384.43 L365.18,383.78 L368.75,383.07 L372.31,382.31 L375.88,381.48 L379.45,380.62 L383.02,379.66 L386.58,378.57 L390.15,377.32 L393.72,376.04 L397.29,374.73 L400.85,373.41 L404.42,372.09 L407.99,370.78 L411.56,369.43 L415.12,368.09 L418.69,366.78 L422.26,365.53 L425.82,364.31 L429.39,363.11 L432.96,361.9 L436.53,360.67 L440.09,359.4 L443.66,358.11 L447.23,356.81 L450.8,355.43 L454.36,353.9 L457.93,352.1 L461.5,350.31 L465.07,348.61 L468.63,346.95 L472.2,345.33"/><path d="M38.11,422.43 L47.05,421.87 L56,421.27 L64.94,420.63 L73.88,419.93 L82.82,419.18 L91.76,418.44 L100.7,417.78 L109.64,417.14 L118.58,416.45 L127.52,415.66 L136.46,414.81 L145.4,413.9 L154.35,412.96 L163.29,411.98 L172.23,410.98 L181.17,409.97 L190.11,408.95 L199.05,407.92 L207.99,406.89 L216.93,405.83 L225.87,404.76 L234.81,403.66 L243.75,402.51 L252.7,401.27 L261.64,399.93 L270.58,398.53 L279.52,397.19 L288.46,395.92 L297.4,394.65 L300.97,394.11 L304.53,393.55 L308.1,392.94 L311.67,392.3 L315.24,391.62 L318.8,390.93 L322.37,390.25 L325.94,389.62 L329.51,389.07 L333.07,388.63 L336.64,388.32 L340.21,387.82 L343.78,387.14 L347.34,386.55 L350.91,386 L354.48,385.45 L358.04,384.88 L361.61,384.28 L365.18,383.61 L368.75,382.89 L372.31,382.1 L375.88,381.25 L379.45,380.36 L383.02,379.37 L386.58,378.24 L390.15,376.96 L393.72,375.65 L397.29,374.3 L400.85,372.94 L404.42,371.57 L407.99,370.21 L411.56,368.82 L415.12,367.41 L418.69,366.05 L422.26,364.75 L425.82,363.48 L429.39,362.22 L432.96,360.96 L436.53,359.68 L440.09,358.36 L443.66,357.02 L447.23,355.66 L450.8,354.22 L454.36,352.62 L457.93,350.75 L461.5,348.87 L465.07,347.1 L468.63,345.36 L472.2,343.67"/><path d="M38.11,422.43 L47.05,421.87 L56,421.27 L64.94,420.63 L73.88,419.93 L82.82,419.18 L91.76,418.44 L100.7,417.78 L109.64,417.14 L118.58,416.45 L127.52,415.66 L136.46,414.81 L145.4,413.9 L154.35,412.96 L163.29,411.98 L172.23,410.98 L181.17,409.97 L190.11,408.95 L199.05,407.92 L207.99,406.87 L216.93,405.81 L225.87,404.72 L234.81,403.6 L243.75,402.44 L252.7,401.18 L261.64,399.83 L270.58,398.43 L279.52,397.09 L288.46,395.84 L297.4,394.59 L300.97,394.06 L304.53,393.51 L308.1,392.91 L311.67,392.27 L315.24,391.6 L318.8,390.9 L322.37,390.22 L325.94,389.58 L329.51,389.03 L333.07,388.59 L336.64,388.27 L340.21,387.76 L343.78,387.07 L347.34,386.47 L350.91,385.91 L354.48,385.35 L358.04,384.77 L361.61,384.15 L365.18,383.47 L368.75,382.72 L372.31,381.91 L375.88,381.03 L379.45,380.1 L383.02,379.08 L386.58,377.9 L390.15,376.6 L393.72,375.25 L397.29,373.86 L400.85,372.46 L404.42,371.05 L407.99,369.64 L411.56,368.19 L415.12,366.74 L418.69,365.32 L422.26,363.96 L425.82,362.64 L429.39,361.33 L432.96,360.02 L436.53,358.68 L440.09,357.31 L443.66,355.91 L447.23,354.5 L450.8,353.01 L454.36,351.34 L457.93,349.38 L461.5,347.42 L465.07,345.57 L468.63,343.75 L472.2,341.99"/><path d="M38.11,422.43 L47.05,421.87 L56,421.27 L64.94,420.63 L73.88,419.93 L82.82,419.18 L91.76,418.44 L100.7,417.78 L109.64,417.14 L118.58,416.45 L127.52,415.66 L136.46,414.81 L145.4,413.9 L154.35,412.96 L163.29,411.98 L172.23,410.98 L181.17,409.97 L190.11,408.95 L199.05,407.92 L207.99,406.86 L216.93,405.78 L225.87,404.68 L234.81,403.55 L243.75,402.37 L252.7,401.09 L261.64,399.72 L270.58,398.32 L279.52,396.99 L288.46,395.76 L297.4,394.53 L300.97,394.02 L304.53,393.47 L308.1,392.88 L311.67,392.24 L315.24,391.57 L318.8,390.87 L322.37,390.19 L325.94,389.54 L329.51,388.99 L333.07,388.54 L336.64,388.23 L340.21,387.71 L343.78,387.01 L347.34,386.39 L350.91,385.82 L354.48,385.25 L358.04,384.66 L361.61,384.02 L365.18,383.32 L368.75,382.55 L372.31,381.71 L375.88,380.81 L379.45,379.85 L383.02,378.78 L386.58,377.57 L390.15,376.24 L393.72,374.85 L397.29,373.42 L400.85,371.97 L404.42,370.52 L407.99,369.07 L411.56,367.56 L415.12,366.05 L418.69,364.58 L422.26,363.17 L425.82,361.79 L429.39,360.43 L432.96,359.06 L436.53,357.68 L440.09,356.25 L443.66,354.79 L447.23,353.33 L450.8,351.77 L454.36,350.03 L457.93,347.99 L461.5,345.95 L465.07,344.02 L468.63,342.12 L472.2,340.28"/><path d="M38.11,422.43 L47.05,421.87 L56,421.27 L64.94,420.63 L73.88,419.93 L82.82,419.18 L91.76,418.44 L100.7,417.78 L109.64,417.14 L118.58,416.45 L127.52,415.66 L136.46,414.81 L145.4,413.9 L154.35,412.96 L163.29,411.98 L172.23,410.98 L181.17,409.97 L190.11,408.95 L199.05,407.91 L207.99,406.85 L216.93,405.76 L225.87,404.64 L234.81,403.49 L243.75,402.29 L252.7,401 L261.64,399.62 L270.58,398.21 L279.52,396.89 L288.46,395.68 L297.4,394.48 L300.97,393.97 L304.53,393.43 L308.1,392.84 L311.67,392.21 L315.24,391.54 L318.8,390.84 L322.37,390.15 L325.94,389.51 L329.51,388.94 L333.07,388.5 L336.64,388.18 L340.21,387.66 L343.78,386.94 L347.34,386.31 L350.91,385.73 L354.48,385.15 L358.04,384.54 L361.61,383.89 L365.18,383.17 L368.75,382.38 L372.31,381.52 L375.88,380.58 L379.45,379.59 L383.02,378.49 L386.58,377.23 L390.15,375.87 L393.72,374.45 L397.29,372.98 L400.85,371.49 L404.42,369.99 L407.99,368.48 L411.56,366.93 L415.12,365.36 L418.69,363.83 L422.26,362.36 L425.82,360.93 L429.39,359.52 L432.96,358.1 L436.53,356.66 L440.09,355.17 L443.66,353.66 L447.23,352.14 L450.8,350.52 L454.36,348.72 L457.93,346.59 L461.5,344.46 L465.07,342.45 L468.63,340.48 L472.2,338.56"/><path d="M38.11,422.43 L47.05,421.87 L56,421.27 L64.94,420.63 L73.88,419.93 L82.82,419.18 L91.76,418.44 L100.7,417.78 L109.64,417.14 L118.58,416.45 L127.52,415.66 L136.46,414.81 L145.4,413.9 L154.35,412.96 L163.29,411.98 L172.23,410.98 L181.17,409.97 L190.11,408.95 L199.05,407.91 L207.99,406.84 L216.93,405.74 L225.87,404.61 L234.81,403.44 L243.75,402.22 L252.7,400.9 L261.64,399.51 L270.58,398.1 L279.52,396.8 L288.46,395.6 L297.4,394.42 L300.97,393.92 L304.53,393.39 L308.1,392.81 L311.67,392.18 L315.24,391.51 L318.8,390.82 L322.37,390.12 L325.94,389.47 L329.51,388.9 L333.07,388.45 L336.64,388.13 L340.21,387.6 L343.78,386.87 L347.34,386.23 L350.91,385.64 L354.48,385.05 L358.04,384.43 L361.61,383.76 L365.18,383.03 L368.75,382.21 L372.31,381.32 L375.88,380.36 L379.45,379.33 L383.02,378.19 L386.58,376.9 L390.15,375.51 L393.72,374.05 L397.29,372.54 L400.85,371 L404.42,369.45 L407.99,367.9 L411.56,366.29 L415.12,364.66 L418.69,363.07 L422.26,361.55 L425.82,360.06 L429.39,358.59 L432.96,357.12 L436.53,355.63 L440.09,354.09 L443.66,352.52 L447.23,350.94 L450.8,349.26 L454.36,347.39 L457.93,345.17 L461.5,342.96 L465.07,340.86 L468.63,338.81 L472.2,336.82"/></g>
<path d="M35.3,494 L35.45,481 L35.8,470 L36.6,464 L38,458.6 L40.2,451.5 L44.3,442.2 L59.3,430 L78.4,422.6 L92.6,417 L437.5,407.6 L469,400.1 L471.1,394.3 L472.2,390.5" class="solid"/>
<path d="M35.2,526.6v-4.3M35.2,301.3v4.3 M35.2,526.6h4.3M472.2,526.6h-4.3 M78.9,526.6v-4.3M78.9,301.3v4.3 M35.2,504.07h4.3M472.2,504.07h-4.3 M122.6,526.6v-4.3M122.6,301.3v4.3 M35.2,481.54h4.3M472.2,481.54h-4.3 M166.3,526.6v-4.3M166.3,301.3v4.3 M35.2,459.01h4.3M472.2,459.01h-4.3 M210,526.6v-4.3M210,301.3v4.3 M35.2,436.48h4.3M472.2,436.48h-4.3 M253.7,526.6v-4.3M253.7,301.3v4.3 M35.2,413.95h4.3M472.2,413.95h-4.3 M297.4,526.6v-4.3M297.4,301.3v4.3 M35.2,391.42h4.3M472.2,391.42h-4.3 M341.1,526.6v-4.3M341.1,301.3v4.3 M35.2,368.89h4.3M472.2,368.89h-4.3 M384.8,526.6v-4.3M384.8,301.3v4.3 M35.2,346.36h4.3M472.2,346.36h-4.3 M428.5,526.6v-4.3M428.5,301.3v4.3 M35.2,323.83h4.3M472.2,323.83h-4.3 M472.2,526.6v-4.3M472.2,301.3v4.3 M35.2,301.3h4.3M472.2,301.3h-4.3" class="tick"/>
<path d="M35.2,301.3V526.6H472.2" class="boxlb"/>
<path d="M35.2,301.3H472.2V526.6" class="boxtr"/>
<g class="tl"><text transform="translate(35.2,536.6) scale(1.0,1)" text-anchor="middle">0</text>
<text transform="translate(78.9,536.6) scale(1.0,1)" text-anchor="middle">0.1</text>
<text transform="translate(122.6,536.6) scale(1.0,1)" text-anchor="middle">0.2</text>
<text transform="translate(166.3,536.6) scale(1.0,1)" text-anchor="middle">0.3</text>
<text transform="translate(210,536.6) scale(1.0,1)" text-anchor="middle">0.4</text>
<text transform="translate(253.7,536.6) scale(1.0,1)" text-anchor="middle">0.5</text>
<text transform="translate(297.4,536.6) scale(1.0,1)" text-anchor="middle">0.6</text>
<text transform="translate(341.1,536.6) scale(1.0,1)" text-anchor="middle">0.7</text>
<text transform="translate(384.8,536.6) scale(1.0,1)" text-anchor="middle">0.8</text>
<text transform="translate(428.5,536.6) scale(1.0,1)" text-anchor="middle">0.9</text>
<text transform="translate(472.2,536.6) scale(1.0,1)" text-anchor="middle">1</text>
<text transform="translate(33.6,530) scale(1.0,1)" text-anchor="end">0</text>
<text transform="translate(33.6,507.47) scale(1.0,1)" text-anchor="end">0.1</text>
<text transform="translate(33.6,484.94) scale(1.0,1)" text-anchor="end">0.2</text>
<text transform="translate(33.6,462.41) scale(1.0,1)" text-anchor="end">0.3</text>
<text transform="translate(33.6,439.88) scale(1.0,1)" text-anchor="end">0.4</text>
<text transform="translate(33.6,417.35) scale(1.0,1)" text-anchor="end">0.5</text>
<text transform="translate(33.6,394.82) scale(1.0,1)" text-anchor="end">0.6</text>
<text transform="translate(33.6,372.29) scale(1.0,1)" text-anchor="end">0.7</text>
<text transform="translate(33.6,349.76) scale(1.0,1)" text-anchor="end">0.8</text>
<text transform="translate(33.6,327.23) scale(1.0,1)" text-anchor="end">0.9</text>
<text transform="translate(33.6,304.7) scale(1.0,1)" text-anchor="end">1</text></g>
<path d="M100.4,111.3L86.87,128.28" class="arr"/><path d="M83.5,132.5L85.22,126.97L88.51,129.59Z" class="arrh"/>
<path d="M383.8,68.9L398.25,78.1" class="arr"/><path d="M402.8,81L397.12,79.87L399.37,76.33Z" class="arrh"/>
<path d="M160.7,162L136.92,148.73" class="arr"/><path d="M132.2,146.1L137.94,146.9L135.89,150.56Z" class="arrh"/>
<path d="M68.4,398.4L56.18,412.87" class="arr"/><path d="M52.7,417L54.58,411.52L57.79,414.23Z" class="arrh"/>
<path d="M385,351.7L399.84,360.37" class="arr"/><path d="M404.5,363.1L398.78,362.19L400.9,358.56Z" class="arrh"/>
<path d="M353,440.6L338.55,417.29" class="arr"/><path d="M335.7,412.7L340.33,416.18L336.76,418.4Z" class="arrh"/>
<g class="txt"><text transform="translate(4.18,9.53) scale(0.917,1)" font-size="17.45" font-family="'Liberation Sans', sans-serif" font-weight="bold" class="lab">a</text>
<text transform="translate(3.89,296.52) scale(1.026,1)" font-size="17.97" font-family="'Liberation Sans', sans-serif" font-weight="bold" class="lab">b</text>
<g transform="translate(101.65,107.1)"><text transform="translate(-0.42,0.00) scale(1.240,1)" font-size="16.74" font-family="'Liberation Serif', serif" font-weight="bold">h</text><path d="M16.4,-7.45H27.3M16.4,-2.35H27.3" class="eq"/><text transform="translate(33.89,0.15) scale(0.879,1)" font-size="17.28" font-family="'Liberation Serif', serif" class="dig">(</text><text transform="translate(38.27,0.00) scale(1.009,1)" font-size="16.52" font-family="'Liberation Serif', serif" class="dig">1</text><text transform="translate(48.29,0.17) scale(0.777,1)" font-size="17.69" font-family="'Liberation Serif', serif">,</text><text transform="translate(54.13,0.00) scale(1.110,1)" font-size="16.52" font-family="'Liberation Serif', serif" class="dig">1</text><text transform="translate(67.13,0.15) scale(0.912,1)" font-size="17.28" font-family="'Liberation Serif', serif" class="dig">)</text></g>
<g transform="translate(304.65,64.3)"><text transform="translate(-0.42,0.00) scale(1.240,1)" font-size="16.74" font-family="'Liberation Serif', serif" font-weight="bold">h</text><path d="M16.4,-7.45H27.3M16.4,-2.35H27.3" class="eq"/><text transform="translate(33.89,0.15) scale(0.879,1)" font-size="17.28" font-family="'Liberation Serif', serif" class="dig">(</text><text transform="translate(38.79,-0.17) scale(1.024,1)" font-size="16.52" font-family="'Liberation Serif', serif" class="dig">7</text><text transform="translate(48.29,0.17) scale(0.777,1)" font-size="17.69" font-family="'Liberation Serif', serif">,</text><text transform="translate(53.71,-0.17) scale(1.298,1)" font-size="16.52" font-family="'Liberation Serif', serif" class="dig">7</text><text transform="translate(67.13,0.15) scale(0.912,1)" font-size="17.28" font-family="'Liberation Serif', serif" class="dig">)</text></g>
<g transform="translate(69.85,392.3)"><text transform="translate(-0.42,0.00) scale(1.240,1)" font-size="16.74" font-family="'Liberation Serif', serif" font-weight="bold">h</text><path d="M16.4,-7.45H27.3M16.4,-2.35H27.3" class="eq"/><text transform="translate(33.89,0.15) scale(0.879,1)" font-size="17.28" font-family="'Liberation Serif', serif" class="dig">(</text><text transform="translate(38.27,0.00) scale(1.009,1)" font-size="16.52" font-family="'Liberation Serif', serif" class="dig">1</text><text transform="translate(48.29,0.17) scale(0.777,1)" font-size="17.69" font-family="'Liberation Serif', serif">,</text><text transform="translate(54.13,0.00) scale(1.110,1)" font-size="16.52" font-family="'Liberation Serif', serif" class="dig">1</text><text transform="translate(67.13,0.15) scale(0.912,1)" font-size="17.28" font-family="'Liberation Serif', serif" class="dig">)</text></g>
<g transform="translate(305.75,347.6)"><text transform="translate(-0.42,0.00) scale(1.240,1)" font-size="16.74" font-family="'Liberation Serif', serif" font-weight="bold">h</text><path d="M16.4,-7.45H27.3M16.4,-2.35H27.3" class="eq"/><text transform="translate(33.89,0.15) scale(0.879,1)" font-size="17.28" font-family="'Liberation Serif', serif" class="dig">(</text><text transform="translate(38.79,-0.17) scale(1.024,1)" font-size="16.52" font-family="'Liberation Serif', serif" class="dig">7</text><text transform="translate(48.29,0.17) scale(0.777,1)" font-size="17.69" font-family="'Liberation Serif', serif">,</text><text transform="translate(53.71,-0.17) scale(1.298,1)" font-size="16.52" font-family="'Liberation Serif', serif" class="dig">7</text><text transform="translate(67.13,0.15) scale(0.912,1)" font-size="17.28" font-family="'Liberation Serif', serif" class="dig">)</text></g>
<text transform="translate(160.62,172.39) scale(1.115,1)" font-size="15.35" font-family="'Liberation Serif', serif" class="thin">Convolutional Code</text>
<text transform="translate(354.04,451.79) scale(1.165,1)" font-size="15.35" font-family="'Liberation Serif', serif" class="thin">LDPC Code</text>
<g class="thin" transform="translate(218.75,269.6)"><text transform="translate(0.19,-0.05) scale(1.254,1)" font-size="14.92" font-family="'Liberation Serif', serif" font-style="italic">I</text><text transform="translate(7.86,-5.55) scale(1.271,1)" font-size="10.15" font-family="'Liberation Serif', serif" font-style="italic">LC</text><text transform="translate(6.05,3.45) scale(1.267,1)" font-size="10.00" font-family="'Liberation Serif', serif" font-style="italic">a</text><path d="M31.85,2.7L36.85,-10.7" class="slash"/><text transform="translate(43.73,-0.05) scale(1.467,1)" font-size="15.38" font-family="'Liberation Serif', serif" font-style="italic">I</text><text transform="translate(50.91,-5.56) scale(1.243,1)" font-size="11.04" font-family="'Liberation Serif', serif" font-style="italic">CC</text><text transform="translate(49.83,3.95) scale(1.200,1)" font-size="10.42" font-family="'Liberation Serif', serif" font-style="italic">e</text></g>
<g class="thin" transform="translate(211.65,552.3)"><text transform="translate(0.19,-0.05) scale(1.254,1)" font-size="14.92" font-family="'Liberation Serif', serif" font-style="italic">I</text><text transform="translate(7.86,-5.55) scale(1.271,1)" font-size="10.15" font-family="'Liberation Serif', serif" font-style="italic">LC</text><text transform="translate(6.05,3.45) scale(1.267,1)" font-size="10.00" font-family="'Liberation Serif', serif" font-style="italic">a</text><path d="M31.85,2.7L36.85,-10.7" class="slash"/><text transform="translate(43.73,-0.05) scale(1.467,1)" font-size="15.38" font-family="'Liberation Serif', serif" font-style="italic">I</text><text transform="translate(51.87,-5.56) scale(1.238,1)" font-size="11.04" font-family="'Liberation Serif', serif" font-style="italic">LDPC</text><text transform="translate(49.83,3.95) scale(1.200,1)" font-size="10.42" font-family="'Liberation Serif', serif" font-style="italic">e</text></g>
<g class="thin" transform="translate(12.55,164.25) rotate(-90)"><text transform="translate(0.19,-0.05) scale(1.254,1)" font-size="14.92" font-family="'Liberation Serif', serif" font-style="italic">I</text><text transform="translate(7.86,-5.55) scale(1.271,1)" font-size="10.15" font-family="'Liberation Serif', serif" font-style="italic">LC</text><text transform="translate(5.83,3.95) scale(1.200,1)" font-size="10.42" font-family="'Liberation Serif', serif" font-style="italic">e</text><path d="M31.85,2.7L36.85,-10.7" class="slash"/><text transform="translate(43.73,-0.05) scale(1.467,1)" font-size="15.38" font-family="'Liberation Serif', serif" font-style="italic">I</text><text transform="translate(50.91,-5.56) scale(1.243,1)" font-size="11.04" font-family="'Liberation Serif', serif" font-style="italic">CC</text><text transform="translate(49.95,3.45) scale(1.267,1)" font-size="10.00" font-family="'Liberation Serif', serif" font-style="italic">a</text></g>
<g class="thin" transform="translate(14.65,458.45) rotate(-90)"><text transform="translate(0.19,-0.05) scale(1.254,1)" font-size="14.92" font-family="'Liberation Serif', serif" font-style="italic">I</text><text transform="translate(7.86,-5.55) scale(1.271,1)" font-size="10.15" font-family="'Liberation Serif', serif" font-style="italic">LC</text><text transform="translate(5.83,3.95) scale(1.200,1)" font-size="10.42" font-family="'Liberation Serif', serif" font-style="italic">e</text><path d="M31.85,2.7L36.85,-10.7" class="slash"/><text transform="translate(43.73,-0.05) scale(1.467,1)" font-size="15.38" font-family="'Liberation Serif', serif" font-style="italic">I</text><text transform="translate(51.87,-5.56) scale(1.238,1)" font-size="11.04" font-family="'Liberation Serif', serif" font-style="italic">LDPC</text><text transform="translate(49.95,3.45) scale(1.267,1)" font-size="10.00" font-family="'Liberation Serif', serif" font-style="italic">a</text></g></g>
</svg>
</body></html>
